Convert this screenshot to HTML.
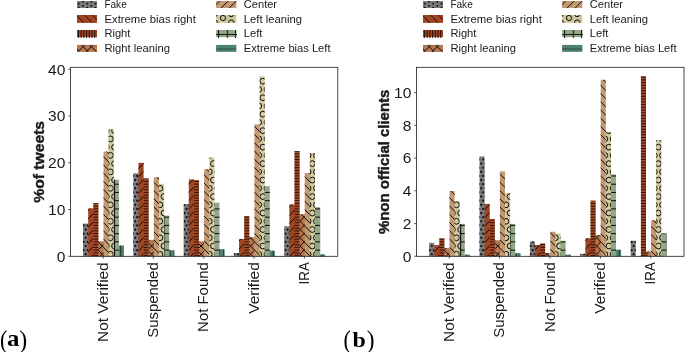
<!DOCTYPE html><html><head><meta charset="utf-8"><title>chart</title><style>html,body{margin:0;padding:0;background:#fff}svg{display:block;will-change:transform}text{font-family:"Liberation Sans",sans-serif;fill:#1a1a1a}.b{font-weight:bold;stroke:#1a1a1a;stroke-width:0.4px}.s{font-family:"Liberation Serif",serif;font-weight:bold;fill:#000}</style></head><body>
<svg width="685" height="352" viewBox="0 0 685 352">
<rect width="685" height="352" fill="#fff"/>
<rect x="83.05" y="223.58" width="5.57" height="32.73" fill="#797979"/>
<rect x="88.17" y="208.38" width="5.57" height="47.92" fill="#a24321"/>
<rect x="93.29" y="203.19" width="5.12" height="53.11" fill="#a64623"/>
<rect x="98.11" y="241.34" width="0.75" height="14.96" fill="#a64623"/>
<rect x="98.41" y="241.34" width="5.57" height="14.96" fill="#b97750"/>
<rect x="103.53" y="151.58" width="5.57" height="104.72" fill="#c39971"/>
<rect x="108.65" y="129.14" width="5.12" height="127.16" fill="#d1ca9f"/>
<rect x="113.47" y="179.63" width="0.75" height="76.67" fill="#d1ca9f"/>
<rect x="113.77" y="179.63" width="5.12" height="76.67" fill="#91a787"/>
<rect x="118.59" y="245.55" width="0.75" height="10.75" fill="#91a787"/>
<rect x="118.89" y="245.55" width="5.12" height="10.75" fill="#4f8472"/>
<rect x="133.35" y="173.32" width="5.57" height="82.98" fill="#797979"/>
<rect x="138.47" y="162.80" width="5.12" height="93.50" fill="#a24321"/>
<rect x="143.29" y="178.46" width="0.75" height="77.84" fill="#a24321"/>
<rect x="143.59" y="178.46" width="5.12" height="77.84" fill="#a64623"/>
<rect x="148.41" y="239.94" width="0.75" height="16.36" fill="#a64623"/>
<rect x="148.71" y="239.94" width="5.57" height="16.36" fill="#b97750"/>
<rect x="153.83" y="177.29" width="5.12" height="79.01" fill="#c39971"/>
<rect x="158.65" y="183.84" width="0.75" height="72.46" fill="#c39971"/>
<rect x="158.95" y="183.84" width="5.12" height="72.46" fill="#d1ca9f"/>
<rect x="163.77" y="215.63" width="0.75" height="40.67" fill="#d1ca9f"/>
<rect x="164.07" y="215.63" width="5.12" height="40.67" fill="#91a787"/>
<rect x="168.89" y="250.22" width="0.75" height="6.08" fill="#91a787"/>
<rect x="169.19" y="250.22" width="5.12" height="6.08" fill="#4f8472"/>
<rect x="183.65" y="204.17" width="5.57" height="52.13" fill="#797979"/>
<rect x="188.77" y="179.40" width="5.12" height="76.90" fill="#a24321"/>
<rect x="193.59" y="180.10" width="0.75" height="76.20" fill="#a24321"/>
<rect x="193.89" y="180.10" width="5.12" height="76.20" fill="#a64623"/>
<rect x="198.71" y="241.34" width="0.75" height="14.96" fill="#a64623"/>
<rect x="199.01" y="241.34" width="5.57" height="14.96" fill="#b97750"/>
<rect x="204.13" y="169.35" width="5.57" height="86.95" fill="#c39971"/>
<rect x="209.25" y="157.66" width="5.12" height="98.64" fill="#d1ca9f"/>
<rect x="214.07" y="202.77" width="0.75" height="53.53" fill="#d1ca9f"/>
<rect x="214.37" y="202.77" width="5.12" height="53.53" fill="#91a787"/>
<rect x="219.19" y="249.29" width="0.75" height="7.01" fill="#91a787"/>
<rect x="219.49" y="249.29" width="5.12" height="7.01" fill="#4f8472"/>
<rect x="233.95" y="253.03" width="5.57" height="3.27" fill="#797979"/>
<rect x="239.07" y="238.91" width="5.57" height="17.39" fill="#a24321"/>
<rect x="244.19" y="216.10" width="5.12" height="40.20" fill="#a64623"/>
<rect x="249.01" y="237.23" width="0.75" height="19.07" fill="#a64623"/>
<rect x="249.31" y="237.23" width="5.57" height="19.07" fill="#b97750"/>
<rect x="254.43" y="124.47" width="5.57" height="131.83" fill="#c39971"/>
<rect x="259.55" y="76.31" width="5.12" height="179.99" fill="#d1ca9f"/>
<rect x="264.37" y="186.18" width="0.75" height="70.12" fill="#d1ca9f"/>
<rect x="264.67" y="186.18" width="5.12" height="70.12" fill="#91a787"/>
<rect x="269.49" y="250.69" width="0.75" height="5.61" fill="#91a787"/>
<rect x="269.79" y="250.69" width="5.12" height="5.61" fill="#4f8472"/>
<rect x="284.25" y="226.38" width="5.57" height="29.92" fill="#797979"/>
<rect x="289.37" y="204.41" width="5.57" height="51.89" fill="#a24321"/>
<rect x="294.49" y="151.11" width="5.12" height="105.19" fill="#a64623"/>
<rect x="299.31" y="214.23" width="0.75" height="42.07" fill="#a64623"/>
<rect x="299.61" y="214.23" width="5.57" height="42.07" fill="#b97750"/>
<rect x="304.73" y="173.09" width="5.57" height="83.22" fill="#c39971"/>
<rect x="309.85" y="152.98" width="5.12" height="103.32" fill="#d1ca9f"/>
<rect x="314.67" y="207.21" width="0.75" height="49.09" fill="#d1ca9f"/>
<rect x="314.97" y="207.21" width="5.12" height="49.09" fill="#91a787"/>
<rect x="319.79" y="254.43" width="0.75" height="1.87" fill="#91a787"/>
<rect x="320.09" y="254.43" width="5.12" height="1.87" fill="#4f8472"/>
<clipPath id="c1"><rect x="83.05" y="223.58" width="5.12" height="32.73"/><rect x="133.35" y="173.32" width="5.12" height="82.98"/><rect x="183.65" y="204.17" width="5.12" height="52.13"/><rect x="233.95" y="253.03" width="5.12" height="3.27"/><rect x="284.25" y="226.38" width="5.12" height="29.92"/></clipPath>
<g clip-path="url(#c1)"><circle cx="83.64" cy="225.41" r="1.1" fill="#0c0c0c"/><circle cx="87.76" cy="225.41" r="1.1" fill="#0c0c0c"/><circle cx="85.70" cy="229.53" r="1.1" fill="#0c0c0c"/><circle cx="83.64" cy="233.65" r="1.1" fill="#0c0c0c"/><circle cx="87.76" cy="233.65" r="1.1" fill="#0c0c0c"/><circle cx="85.70" cy="237.77" r="1.1" fill="#0c0c0c"/><circle cx="83.64" cy="241.89" r="1.1" fill="#0c0c0c"/><circle cx="87.76" cy="241.89" r="1.1" fill="#0c0c0c"/><circle cx="85.70" cy="246.01" r="1.1" fill="#0c0c0c"/><circle cx="83.64" cy="250.13" r="1.1" fill="#0c0c0c"/><circle cx="87.76" cy="250.13" r="1.1" fill="#0c0c0c"/><circle cx="85.70" cy="254.25" r="1.1" fill="#0c0c0c"/><circle cx="133.08" cy="175.97" r="1.1" fill="#0c0c0c"/><circle cx="137.20" cy="175.97" r="1.1" fill="#0c0c0c"/><circle cx="135.14" cy="180.09" r="1.1" fill="#0c0c0c"/><circle cx="139.26" cy="180.09" r="1.1" fill="#0c0c0c"/><circle cx="133.08" cy="184.21" r="1.1" fill="#0c0c0c"/><circle cx="137.20" cy="184.21" r="1.1" fill="#0c0c0c"/><circle cx="135.14" cy="188.33" r="1.1" fill="#0c0c0c"/><circle cx="139.26" cy="188.33" r="1.1" fill="#0c0c0c"/><circle cx="133.08" cy="192.45" r="1.1" fill="#0c0c0c"/><circle cx="137.20" cy="192.45" r="1.1" fill="#0c0c0c"/><circle cx="135.14" cy="196.57" r="1.1" fill="#0c0c0c"/><circle cx="139.26" cy="196.57" r="1.1" fill="#0c0c0c"/><circle cx="133.08" cy="200.69" r="1.1" fill="#0c0c0c"/><circle cx="137.20" cy="200.69" r="1.1" fill="#0c0c0c"/><circle cx="135.14" cy="204.81" r="1.1" fill="#0c0c0c"/><circle cx="139.26" cy="204.81" r="1.1" fill="#0c0c0c"/><circle cx="133.08" cy="208.93" r="1.1" fill="#0c0c0c"/><circle cx="137.20" cy="208.93" r="1.1" fill="#0c0c0c"/><circle cx="135.14" cy="213.05" r="1.1" fill="#0c0c0c"/><circle cx="139.26" cy="213.05" r="1.1" fill="#0c0c0c"/><circle cx="133.08" cy="217.17" r="1.1" fill="#0c0c0c"/><circle cx="137.20" cy="217.17" r="1.1" fill="#0c0c0c"/><circle cx="135.14" cy="221.29" r="1.1" fill="#0c0c0c"/><circle cx="139.26" cy="221.29" r="1.1" fill="#0c0c0c"/><circle cx="133.08" cy="225.41" r="1.1" fill="#0c0c0c"/><circle cx="137.20" cy="225.41" r="1.1" fill="#0c0c0c"/><circle cx="135.14" cy="229.53" r="1.1" fill="#0c0c0c"/><circle cx="139.26" cy="229.53" r="1.1" fill="#0c0c0c"/><circle cx="133.08" cy="233.65" r="1.1" fill="#0c0c0c"/><circle cx="137.20" cy="233.65" r="1.1" fill="#0c0c0c"/><circle cx="135.14" cy="237.77" r="1.1" fill="#0c0c0c"/><circle cx="139.26" cy="237.77" r="1.1" fill="#0c0c0c"/><circle cx="133.08" cy="241.89" r="1.1" fill="#0c0c0c"/><circle cx="137.20" cy="241.89" r="1.1" fill="#0c0c0c"/><circle cx="135.14" cy="246.01" r="1.1" fill="#0c0c0c"/><circle cx="139.26" cy="246.01" r="1.1" fill="#0c0c0c"/><circle cx="133.08" cy="250.13" r="1.1" fill="#0c0c0c"/><circle cx="137.20" cy="250.13" r="1.1" fill="#0c0c0c"/><circle cx="135.14" cy="254.25" r="1.1" fill="#0c0c0c"/><circle cx="139.26" cy="254.25" r="1.1" fill="#0c0c0c"/><circle cx="184.58" cy="204.81" r="1.1" fill="#0c0c0c"/><circle cx="188.70" cy="204.81" r="1.1" fill="#0c0c0c"/><circle cx="186.64" cy="208.93" r="1.1" fill="#0c0c0c"/><circle cx="184.58" cy="213.05" r="1.1" fill="#0c0c0c"/><circle cx="188.70" cy="213.05" r="1.1" fill="#0c0c0c"/><circle cx="186.64" cy="217.17" r="1.1" fill="#0c0c0c"/><circle cx="184.58" cy="221.29" r="1.1" fill="#0c0c0c"/><circle cx="188.70" cy="221.29" r="1.1" fill="#0c0c0c"/><circle cx="186.64" cy="225.41" r="1.1" fill="#0c0c0c"/><circle cx="184.58" cy="229.53" r="1.1" fill="#0c0c0c"/><circle cx="188.70" cy="229.53" r="1.1" fill="#0c0c0c"/><circle cx="186.64" cy="233.65" r="1.1" fill="#0c0c0c"/><circle cx="184.58" cy="237.77" r="1.1" fill="#0c0c0c"/><circle cx="188.70" cy="237.77" r="1.1" fill="#0c0c0c"/><circle cx="186.64" cy="241.89" r="1.1" fill="#0c0c0c"/><circle cx="184.58" cy="246.01" r="1.1" fill="#0c0c0c"/><circle cx="188.70" cy="246.01" r="1.1" fill="#0c0c0c"/><circle cx="186.64" cy="250.13" r="1.1" fill="#0c0c0c"/><circle cx="184.58" cy="254.25" r="1.1" fill="#0c0c0c"/><circle cx="188.70" cy="254.25" r="1.1" fill="#0c0c0c"/><circle cx="234.02" cy="254.25" r="1.1" fill="#0c0c0c"/><circle cx="238.14" cy="254.25" r="1.1" fill="#0c0c0c"/><circle cx="285.52" cy="225.41" r="1.1" fill="#0c0c0c"/><circle cx="289.64" cy="225.41" r="1.1" fill="#0c0c0c"/><circle cx="283.46" cy="229.53" r="1.1" fill="#0c0c0c"/><circle cx="287.58" cy="229.53" r="1.1" fill="#0c0c0c"/><circle cx="285.52" cy="233.65" r="1.1" fill="#0c0c0c"/><circle cx="289.64" cy="233.65" r="1.1" fill="#0c0c0c"/><circle cx="283.46" cy="237.77" r="1.1" fill="#0c0c0c"/><circle cx="287.58" cy="237.77" r="1.1" fill="#0c0c0c"/><circle cx="285.52" cy="241.89" r="1.1" fill="#0c0c0c"/><circle cx="289.64" cy="241.89" r="1.1" fill="#0c0c0c"/><circle cx="283.46" cy="246.01" r="1.1" fill="#0c0c0c"/><circle cx="287.58" cy="246.01" r="1.1" fill="#0c0c0c"/><circle cx="285.52" cy="250.13" r="1.1" fill="#0c0c0c"/><circle cx="289.64" cy="250.13" r="1.1" fill="#0c0c0c"/><circle cx="283.46" cy="254.25" r="1.1" fill="#0c0c0c"/><circle cx="287.58" cy="254.25" r="1.1" fill="#0c0c0c"/></g>
<clipPath id="c2"><rect x="88.17" y="208.38" width="5.12" height="47.92"/><rect x="138.47" y="162.80" width="5.12" height="93.50"/><rect x="188.77" y="179.40" width="5.12" height="76.90"/><rect x="239.07" y="238.91" width="5.12" height="17.39"/><rect x="289.37" y="204.41" width="5.12" height="51.89"/></clipPath>
<g clip-path="url(#c2)"><line x1="87.17" y1="211.58" x2="94.29" y2="204.46" stroke="#0c0c0c" stroke-width="1.0"/><line x1="87.17" y1="219.82" x2="94.29" y2="212.70" stroke="#0c0c0c" stroke-width="1.0"/><line x1="87.17" y1="228.06" x2="94.29" y2="220.94" stroke="#0c0c0c" stroke-width="1.0"/><line x1="87.17" y1="236.30" x2="94.29" y2="229.18" stroke="#0c0c0c" stroke-width="1.0"/><line x1="87.17" y1="244.54" x2="94.29" y2="237.42" stroke="#0c0c0c" stroke-width="1.0"/><line x1="87.17" y1="252.78" x2="94.29" y2="245.66" stroke="#0c0c0c" stroke-width="1.0"/><line x1="87.17" y1="261.02" x2="94.29" y2="253.90" stroke="#0c0c0c" stroke-width="1.0"/><line x1="137.47" y1="169.52" x2="144.59" y2="162.40" stroke="#0c0c0c" stroke-width="1.0"/><line x1="137.47" y1="177.76" x2="144.59" y2="170.64" stroke="#0c0c0c" stroke-width="1.0"/><line x1="137.47" y1="186.00" x2="144.59" y2="178.88" stroke="#0c0c0c" stroke-width="1.0"/><line x1="137.47" y1="194.24" x2="144.59" y2="187.12" stroke="#0c0c0c" stroke-width="1.0"/><line x1="137.47" y1="202.48" x2="144.59" y2="195.36" stroke="#0c0c0c" stroke-width="1.0"/><line x1="137.47" y1="210.72" x2="144.59" y2="203.60" stroke="#0c0c0c" stroke-width="1.0"/><line x1="137.47" y1="218.96" x2="144.59" y2="211.84" stroke="#0c0c0c" stroke-width="1.0"/><line x1="137.47" y1="227.20" x2="144.59" y2="220.08" stroke="#0c0c0c" stroke-width="1.0"/><line x1="137.47" y1="235.44" x2="144.59" y2="228.32" stroke="#0c0c0c" stroke-width="1.0"/><line x1="137.47" y1="243.68" x2="144.59" y2="236.56" stroke="#0c0c0c" stroke-width="1.0"/><line x1="137.47" y1="251.92" x2="144.59" y2="244.80" stroke="#0c0c0c" stroke-width="1.0"/><line x1="137.47" y1="260.16" x2="144.59" y2="253.04" stroke="#0c0c0c" stroke-width="1.0"/><line x1="187.77" y1="185.14" x2="194.89" y2="178.02" stroke="#0c0c0c" stroke-width="1.0"/><line x1="187.77" y1="193.38" x2="194.89" y2="186.26" stroke="#0c0c0c" stroke-width="1.0"/><line x1="187.77" y1="201.62" x2="194.89" y2="194.50" stroke="#0c0c0c" stroke-width="1.0"/><line x1="187.77" y1="209.86" x2="194.89" y2="202.74" stroke="#0c0c0c" stroke-width="1.0"/><line x1="187.77" y1="218.10" x2="194.89" y2="210.98" stroke="#0c0c0c" stroke-width="1.0"/><line x1="187.77" y1="226.34" x2="194.89" y2="219.22" stroke="#0c0c0c" stroke-width="1.0"/><line x1="187.77" y1="234.58" x2="194.89" y2="227.46" stroke="#0c0c0c" stroke-width="1.0"/><line x1="187.77" y1="242.82" x2="194.89" y2="235.70" stroke="#0c0c0c" stroke-width="1.0"/><line x1="187.77" y1="251.06" x2="194.89" y2="243.94" stroke="#0c0c0c" stroke-width="1.0"/><line x1="187.77" y1="259.30" x2="194.89" y2="252.18" stroke="#0c0c0c" stroke-width="1.0"/><line x1="238.07" y1="241.96" x2="245.19" y2="234.84" stroke="#0c0c0c" stroke-width="1.0"/><line x1="238.07" y1="250.20" x2="245.19" y2="243.08" stroke="#0c0c0c" stroke-width="1.0"/><line x1="238.07" y1="258.44" x2="245.19" y2="251.32" stroke="#0c0c0c" stroke-width="1.0"/><line x1="288.37" y1="208.14" x2="295.49" y2="201.02" stroke="#0c0c0c" stroke-width="1.0"/><line x1="288.37" y1="216.38" x2="295.49" y2="209.26" stroke="#0c0c0c" stroke-width="1.0"/><line x1="288.37" y1="224.62" x2="295.49" y2="217.50" stroke="#0c0c0c" stroke-width="1.0"/><line x1="288.37" y1="232.86" x2="295.49" y2="225.74" stroke="#0c0c0c" stroke-width="1.0"/><line x1="288.37" y1="241.10" x2="295.49" y2="233.98" stroke="#0c0c0c" stroke-width="1.0"/><line x1="288.37" y1="249.34" x2="295.49" y2="242.22" stroke="#0c0c0c" stroke-width="1.0"/><line x1="288.37" y1="257.58" x2="295.49" y2="250.46" stroke="#0c0c0c" stroke-width="1.0"/></g>
<clipPath id="c3"><rect x="93.29" y="203.19" width="5.12" height="53.11"/><rect x="143.59" y="178.46" width="5.12" height="77.84"/><rect x="193.89" y="180.10" width="5.12" height="76.20"/><rect x="244.19" y="216.10" width="5.12" height="40.20"/><rect x="294.49" y="151.11" width="5.12" height="105.19"/></clipPath>
<g clip-path="url(#c3)"><line x1="92.29" y1="203.44" x2="99.41" y2="203.44" stroke="#0c0c0c" stroke-width="0.8"/><line x1="92.29" y1="206.18" x2="99.41" y2="206.18" stroke="#0c0c0c" stroke-width="0.8"/><line x1="92.29" y1="208.93" x2="99.41" y2="208.93" stroke="#0c0c0c" stroke-width="0.8"/><line x1="92.29" y1="211.68" x2="99.41" y2="211.68" stroke="#0c0c0c" stroke-width="0.8"/><line x1="92.29" y1="214.42" x2="99.41" y2="214.42" stroke="#0c0c0c" stroke-width="0.8"/><line x1="92.29" y1="217.17" x2="99.41" y2="217.17" stroke="#0c0c0c" stroke-width="0.8"/><line x1="92.29" y1="219.92" x2="99.41" y2="219.92" stroke="#0c0c0c" stroke-width="0.8"/><line x1="92.29" y1="222.66" x2="99.41" y2="222.66" stroke="#0c0c0c" stroke-width="0.8"/><line x1="92.29" y1="225.41" x2="99.41" y2="225.41" stroke="#0c0c0c" stroke-width="0.8"/><line x1="92.29" y1="228.16" x2="99.41" y2="228.16" stroke="#0c0c0c" stroke-width="0.8"/><line x1="92.29" y1="230.90" x2="99.41" y2="230.90" stroke="#0c0c0c" stroke-width="0.8"/><line x1="92.29" y1="233.65" x2="99.41" y2="233.65" stroke="#0c0c0c" stroke-width="0.8"/><line x1="92.29" y1="236.40" x2="99.41" y2="236.40" stroke="#0c0c0c" stroke-width="0.8"/><line x1="92.29" y1="239.14" x2="99.41" y2="239.14" stroke="#0c0c0c" stroke-width="0.8"/><line x1="92.29" y1="241.89" x2="99.41" y2="241.89" stroke="#0c0c0c" stroke-width="0.8"/><line x1="92.29" y1="244.64" x2="99.41" y2="244.64" stroke="#0c0c0c" stroke-width="0.8"/><line x1="92.29" y1="247.38" x2="99.41" y2="247.38" stroke="#0c0c0c" stroke-width="0.8"/><line x1="92.29" y1="250.13" x2="99.41" y2="250.13" stroke="#0c0c0c" stroke-width="0.8"/><line x1="92.29" y1="252.88" x2="99.41" y2="252.88" stroke="#0c0c0c" stroke-width="0.8"/><line x1="92.29" y1="255.62" x2="99.41" y2="255.62" stroke="#0c0c0c" stroke-width="0.8"/><line x1="142.59" y1="178.72" x2="149.71" y2="178.72" stroke="#0c0c0c" stroke-width="0.8"/><line x1="142.59" y1="181.46" x2="149.71" y2="181.46" stroke="#0c0c0c" stroke-width="0.8"/><line x1="142.59" y1="184.21" x2="149.71" y2="184.21" stroke="#0c0c0c" stroke-width="0.8"/><line x1="142.59" y1="186.96" x2="149.71" y2="186.96" stroke="#0c0c0c" stroke-width="0.8"/><line x1="142.59" y1="189.70" x2="149.71" y2="189.70" stroke="#0c0c0c" stroke-width="0.8"/><line x1="142.59" y1="192.45" x2="149.71" y2="192.45" stroke="#0c0c0c" stroke-width="0.8"/><line x1="142.59" y1="195.20" x2="149.71" y2="195.20" stroke="#0c0c0c" stroke-width="0.8"/><line x1="142.59" y1="197.94" x2="149.71" y2="197.94" stroke="#0c0c0c" stroke-width="0.8"/><line x1="142.59" y1="200.69" x2="149.71" y2="200.69" stroke="#0c0c0c" stroke-width="0.8"/><line x1="142.59" y1="203.44" x2="149.71" y2="203.44" stroke="#0c0c0c" stroke-width="0.8"/><line x1="142.59" y1="206.18" x2="149.71" y2="206.18" stroke="#0c0c0c" stroke-width="0.8"/><line x1="142.59" y1="208.93" x2="149.71" y2="208.93" stroke="#0c0c0c" stroke-width="0.8"/><line x1="142.59" y1="211.68" x2="149.71" y2="211.68" stroke="#0c0c0c" stroke-width="0.8"/><line x1="142.59" y1="214.42" x2="149.71" y2="214.42" stroke="#0c0c0c" stroke-width="0.8"/><line x1="142.59" y1="217.17" x2="149.71" y2="217.17" stroke="#0c0c0c" stroke-width="0.8"/><line x1="142.59" y1="219.92" x2="149.71" y2="219.92" stroke="#0c0c0c" stroke-width="0.8"/><line x1="142.59" y1="222.66" x2="149.71" y2="222.66" stroke="#0c0c0c" stroke-width="0.8"/><line x1="142.59" y1="225.41" x2="149.71" y2="225.41" stroke="#0c0c0c" stroke-width="0.8"/><line x1="142.59" y1="228.16" x2="149.71" y2="228.16" stroke="#0c0c0c" stroke-width="0.8"/><line x1="142.59" y1="230.90" x2="149.71" y2="230.90" stroke="#0c0c0c" stroke-width="0.8"/><line x1="142.59" y1="233.65" x2="149.71" y2="233.65" stroke="#0c0c0c" stroke-width="0.8"/><line x1="142.59" y1="236.40" x2="149.71" y2="236.40" stroke="#0c0c0c" stroke-width="0.8"/><line x1="142.59" y1="239.14" x2="149.71" y2="239.14" stroke="#0c0c0c" stroke-width="0.8"/><line x1="142.59" y1="241.89" x2="149.71" y2="241.89" stroke="#0c0c0c" stroke-width="0.8"/><line x1="142.59" y1="244.64" x2="149.71" y2="244.64" stroke="#0c0c0c" stroke-width="0.8"/><line x1="142.59" y1="247.38" x2="149.71" y2="247.38" stroke="#0c0c0c" stroke-width="0.8"/><line x1="142.59" y1="250.13" x2="149.71" y2="250.13" stroke="#0c0c0c" stroke-width="0.8"/><line x1="142.59" y1="252.88" x2="149.71" y2="252.88" stroke="#0c0c0c" stroke-width="0.8"/><line x1="142.59" y1="255.62" x2="149.71" y2="255.62" stroke="#0c0c0c" stroke-width="0.8"/><line x1="192.89" y1="181.46" x2="200.01" y2="181.46" stroke="#0c0c0c" stroke-width="0.8"/><line x1="192.89" y1="184.21" x2="200.01" y2="184.21" stroke="#0c0c0c" stroke-width="0.8"/><line x1="192.89" y1="186.96" x2="200.01" y2="186.96" stroke="#0c0c0c" stroke-width="0.8"/><line x1="192.89" y1="189.70" x2="200.01" y2="189.70" stroke="#0c0c0c" stroke-width="0.8"/><line x1="192.89" y1="192.45" x2="200.01" y2="192.45" stroke="#0c0c0c" stroke-width="0.8"/><line x1="192.89" y1="195.20" x2="200.01" y2="195.20" stroke="#0c0c0c" stroke-width="0.8"/><line x1="192.89" y1="197.94" x2="200.01" y2="197.94" stroke="#0c0c0c" stroke-width="0.8"/><line x1="192.89" y1="200.69" x2="200.01" y2="200.69" stroke="#0c0c0c" stroke-width="0.8"/><line x1="192.89" y1="203.44" x2="200.01" y2="203.44" stroke="#0c0c0c" stroke-width="0.8"/><line x1="192.89" y1="206.18" x2="200.01" y2="206.18" stroke="#0c0c0c" stroke-width="0.8"/><line x1="192.89" y1="208.93" x2="200.01" y2="208.93" stroke="#0c0c0c" stroke-width="0.8"/><line x1="192.89" y1="211.68" x2="200.01" y2="211.68" stroke="#0c0c0c" stroke-width="0.8"/><line x1="192.89" y1="214.42" x2="200.01" y2="214.42" stroke="#0c0c0c" stroke-width="0.8"/><line x1="192.89" y1="217.17" x2="200.01" y2="217.17" stroke="#0c0c0c" stroke-width="0.8"/><line x1="192.89" y1="219.92" x2="200.01" y2="219.92" stroke="#0c0c0c" stroke-width="0.8"/><line x1="192.89" y1="222.66" x2="200.01" y2="222.66" stroke="#0c0c0c" stroke-width="0.8"/><line x1="192.89" y1="225.41" x2="200.01" y2="225.41" stroke="#0c0c0c" stroke-width="0.8"/><line x1="192.89" y1="228.16" x2="200.01" y2="228.16" stroke="#0c0c0c" stroke-width="0.8"/><line x1="192.89" y1="230.90" x2="200.01" y2="230.90" stroke="#0c0c0c" stroke-width="0.8"/><line x1="192.89" y1="233.65" x2="200.01" y2="233.65" stroke="#0c0c0c" stroke-width="0.8"/><line x1="192.89" y1="236.40" x2="200.01" y2="236.40" stroke="#0c0c0c" stroke-width="0.8"/><line x1="192.89" y1="239.14" x2="200.01" y2="239.14" stroke="#0c0c0c" stroke-width="0.8"/><line x1="192.89" y1="241.89" x2="200.01" y2="241.89" stroke="#0c0c0c" stroke-width="0.8"/><line x1="192.89" y1="244.64" x2="200.01" y2="244.64" stroke="#0c0c0c" stroke-width="0.8"/><line x1="192.89" y1="247.38" x2="200.01" y2="247.38" stroke="#0c0c0c" stroke-width="0.8"/><line x1="192.89" y1="250.13" x2="200.01" y2="250.13" stroke="#0c0c0c" stroke-width="0.8"/><line x1="192.89" y1="252.88" x2="200.01" y2="252.88" stroke="#0c0c0c" stroke-width="0.8"/><line x1="192.89" y1="255.62" x2="200.01" y2="255.62" stroke="#0c0c0c" stroke-width="0.8"/><line x1="243.19" y1="217.17" x2="250.31" y2="217.17" stroke="#0c0c0c" stroke-width="0.8"/><line x1="243.19" y1="219.92" x2="250.31" y2="219.92" stroke="#0c0c0c" stroke-width="0.8"/><line x1="243.19" y1="222.66" x2="250.31" y2="222.66" stroke="#0c0c0c" stroke-width="0.8"/><line x1="243.19" y1="225.41" x2="250.31" y2="225.41" stroke="#0c0c0c" stroke-width="0.8"/><line x1="243.19" y1="228.16" x2="250.31" y2="228.16" stroke="#0c0c0c" stroke-width="0.8"/><line x1="243.19" y1="230.90" x2="250.31" y2="230.90" stroke="#0c0c0c" stroke-width="0.8"/><line x1="243.19" y1="233.65" x2="250.31" y2="233.65" stroke="#0c0c0c" stroke-width="0.8"/><line x1="243.19" y1="236.40" x2="250.31" y2="236.40" stroke="#0c0c0c" stroke-width="0.8"/><line x1="243.19" y1="239.14" x2="250.31" y2="239.14" stroke="#0c0c0c" stroke-width="0.8"/><line x1="243.19" y1="241.89" x2="250.31" y2="241.89" stroke="#0c0c0c" stroke-width="0.8"/><line x1="243.19" y1="244.64" x2="250.31" y2="244.64" stroke="#0c0c0c" stroke-width="0.8"/><line x1="243.19" y1="247.38" x2="250.31" y2="247.38" stroke="#0c0c0c" stroke-width="0.8"/><line x1="243.19" y1="250.13" x2="250.31" y2="250.13" stroke="#0c0c0c" stroke-width="0.8"/><line x1="243.19" y1="252.88" x2="250.31" y2="252.88" stroke="#0c0c0c" stroke-width="0.8"/><line x1="243.19" y1="255.62" x2="250.31" y2="255.62" stroke="#0c0c0c" stroke-width="0.8"/><line x1="293.49" y1="151.25" x2="300.61" y2="151.25" stroke="#0c0c0c" stroke-width="0.8"/><line x1="293.49" y1="154.00" x2="300.61" y2="154.00" stroke="#0c0c0c" stroke-width="0.8"/><line x1="293.49" y1="156.74" x2="300.61" y2="156.74" stroke="#0c0c0c" stroke-width="0.8"/><line x1="293.49" y1="159.49" x2="300.61" y2="159.49" stroke="#0c0c0c" stroke-width="0.8"/><line x1="293.49" y1="162.24" x2="300.61" y2="162.24" stroke="#0c0c0c" stroke-width="0.8"/><line x1="293.49" y1="164.98" x2="300.61" y2="164.98" stroke="#0c0c0c" stroke-width="0.8"/><line x1="293.49" y1="167.73" x2="300.61" y2="167.73" stroke="#0c0c0c" stroke-width="0.8"/><line x1="293.49" y1="170.48" x2="300.61" y2="170.48" stroke="#0c0c0c" stroke-width="0.8"/><line x1="293.49" y1="173.22" x2="300.61" y2="173.22" stroke="#0c0c0c" stroke-width="0.8"/><line x1="293.49" y1="175.97" x2="300.61" y2="175.97" stroke="#0c0c0c" stroke-width="0.8"/><line x1="293.49" y1="178.72" x2="300.61" y2="178.72" stroke="#0c0c0c" stroke-width="0.8"/><line x1="293.49" y1="181.46" x2="300.61" y2="181.46" stroke="#0c0c0c" stroke-width="0.8"/><line x1="293.49" y1="184.21" x2="300.61" y2="184.21" stroke="#0c0c0c" stroke-width="0.8"/><line x1="293.49" y1="186.96" x2="300.61" y2="186.96" stroke="#0c0c0c" stroke-width="0.8"/><line x1="293.49" y1="189.70" x2="300.61" y2="189.70" stroke="#0c0c0c" stroke-width="0.8"/><line x1="293.49" y1="192.45" x2="300.61" y2="192.45" stroke="#0c0c0c" stroke-width="0.8"/><line x1="293.49" y1="195.20" x2="300.61" y2="195.20" stroke="#0c0c0c" stroke-width="0.8"/><line x1="293.49" y1="197.94" x2="300.61" y2="197.94" stroke="#0c0c0c" stroke-width="0.8"/><line x1="293.49" y1="200.69" x2="300.61" y2="200.69" stroke="#0c0c0c" stroke-width="0.8"/><line x1="293.49" y1="203.44" x2="300.61" y2="203.44" stroke="#0c0c0c" stroke-width="0.8"/><line x1="293.49" y1="206.18" x2="300.61" y2="206.18" stroke="#0c0c0c" stroke-width="0.8"/><line x1="293.49" y1="208.93" x2="300.61" y2="208.93" stroke="#0c0c0c" stroke-width="0.8"/><line x1="293.49" y1="211.68" x2="300.61" y2="211.68" stroke="#0c0c0c" stroke-width="0.8"/><line x1="293.49" y1="214.42" x2="300.61" y2="214.42" stroke="#0c0c0c" stroke-width="0.8"/><line x1="293.49" y1="217.17" x2="300.61" y2="217.17" stroke="#0c0c0c" stroke-width="0.8"/><line x1="293.49" y1="219.92" x2="300.61" y2="219.92" stroke="#0c0c0c" stroke-width="0.8"/><line x1="293.49" y1="222.66" x2="300.61" y2="222.66" stroke="#0c0c0c" stroke-width="0.8"/><line x1="293.49" y1="225.41" x2="300.61" y2="225.41" stroke="#0c0c0c" stroke-width="0.8"/><line x1="293.49" y1="228.16" x2="300.61" y2="228.16" stroke="#0c0c0c" stroke-width="0.8"/><line x1="293.49" y1="230.90" x2="300.61" y2="230.90" stroke="#0c0c0c" stroke-width="0.8"/><line x1="293.49" y1="233.65" x2="300.61" y2="233.65" stroke="#0c0c0c" stroke-width="0.8"/><line x1="293.49" y1="236.40" x2="300.61" y2="236.40" stroke="#0c0c0c" stroke-width="0.8"/><line x1="293.49" y1="239.14" x2="300.61" y2="239.14" stroke="#0c0c0c" stroke-width="0.8"/><line x1="293.49" y1="241.89" x2="300.61" y2="241.89" stroke="#0c0c0c" stroke-width="0.8"/><line x1="293.49" y1="244.64" x2="300.61" y2="244.64" stroke="#0c0c0c" stroke-width="0.8"/><line x1="293.49" y1="247.38" x2="300.61" y2="247.38" stroke="#0c0c0c" stroke-width="0.8"/><line x1="293.49" y1="250.13" x2="300.61" y2="250.13" stroke="#0c0c0c" stroke-width="0.8"/><line x1="293.49" y1="252.88" x2="300.61" y2="252.88" stroke="#0c0c0c" stroke-width="0.8"/><line x1="293.49" y1="255.62" x2="300.61" y2="255.62" stroke="#0c0c0c" stroke-width="0.8"/></g>
<clipPath id="c4"><rect x="98.41" y="241.34" width="5.12" height="14.96"/><rect x="148.71" y="239.94" width="5.12" height="16.36"/><rect x="199.01" y="241.34" width="5.12" height="14.96"/><rect x="249.31" y="237.23" width="5.12" height="19.07"/><rect x="299.61" y="214.23" width="5.12" height="42.07"/></clipPath>
<g clip-path="url(#c4)"><line x1="97.41" y1="242.54" x2="104.53" y2="235.42" stroke="#0c0c0c" stroke-width="1.0"/><line x1="97.41" y1="250.78" x2="104.53" y2="243.66" stroke="#0c0c0c" stroke-width="1.0"/><line x1="97.41" y1="259.02" x2="104.53" y2="251.90" stroke="#0c0c0c" stroke-width="1.0"/><line x1="97.41" y1="249.48" x2="104.53" y2="256.60" stroke="#0c0c0c" stroke-width="1.0"/><line x1="97.41" y1="241.24" x2="104.53" y2="248.36" stroke="#0c0c0c" stroke-width="1.0"/><line x1="147.71" y1="241.68" x2="154.83" y2="234.56" stroke="#0c0c0c" stroke-width="1.0"/><line x1="147.71" y1="249.92" x2="154.83" y2="242.80" stroke="#0c0c0c" stroke-width="1.0"/><line x1="147.71" y1="258.16" x2="154.83" y2="251.04" stroke="#0c0c0c" stroke-width="1.0"/><line x1="147.71" y1="250.34" x2="154.83" y2="257.46" stroke="#0c0c0c" stroke-width="1.0"/><line x1="147.71" y1="242.10" x2="154.83" y2="249.22" stroke="#0c0c0c" stroke-width="1.0"/><line x1="147.71" y1="233.86" x2="154.83" y2="240.98" stroke="#0c0c0c" stroke-width="1.0"/><line x1="198.01" y1="240.82" x2="205.13" y2="233.70" stroke="#0c0c0c" stroke-width="1.0"/><line x1="198.01" y1="249.06" x2="205.13" y2="241.94" stroke="#0c0c0c" stroke-width="1.0"/><line x1="198.01" y1="257.30" x2="205.13" y2="250.18" stroke="#0c0c0c" stroke-width="1.0"/><line x1="198.01" y1="251.20" x2="205.13" y2="258.32" stroke="#0c0c0c" stroke-width="1.0"/><line x1="198.01" y1="242.96" x2="205.13" y2="250.08" stroke="#0c0c0c" stroke-width="1.0"/><line x1="198.01" y1="234.72" x2="205.13" y2="241.84" stroke="#0c0c0c" stroke-width="1.0"/><line x1="248.31" y1="239.96" x2="255.43" y2="232.84" stroke="#0c0c0c" stroke-width="1.0"/><line x1="248.31" y1="248.20" x2="255.43" y2="241.08" stroke="#0c0c0c" stroke-width="1.0"/><line x1="248.31" y1="256.44" x2="255.43" y2="249.32" stroke="#0c0c0c" stroke-width="1.0"/><line x1="248.31" y1="252.06" x2="255.43" y2="259.18" stroke="#0c0c0c" stroke-width="1.0"/><line x1="248.31" y1="243.82" x2="255.43" y2="250.94" stroke="#0c0c0c" stroke-width="1.0"/><line x1="248.31" y1="235.58" x2="255.43" y2="242.70" stroke="#0c0c0c" stroke-width="1.0"/><line x1="298.61" y1="214.38" x2="305.73" y2="207.26" stroke="#0c0c0c" stroke-width="1.0"/><line x1="298.61" y1="222.62" x2="305.73" y2="215.50" stroke="#0c0c0c" stroke-width="1.0"/><line x1="298.61" y1="230.86" x2="305.73" y2="223.74" stroke="#0c0c0c" stroke-width="1.0"/><line x1="298.61" y1="239.10" x2="305.73" y2="231.98" stroke="#0c0c0c" stroke-width="1.0"/><line x1="298.61" y1="247.34" x2="305.73" y2="240.22" stroke="#0c0c0c" stroke-width="1.0"/><line x1="298.61" y1="255.58" x2="305.73" y2="248.46" stroke="#0c0c0c" stroke-width="1.0"/><line x1="298.61" y1="263.82" x2="305.73" y2="256.70" stroke="#0c0c0c" stroke-width="1.0"/><line x1="298.61" y1="252.92" x2="305.73" y2="260.04" stroke="#0c0c0c" stroke-width="1.0"/><line x1="298.61" y1="244.68" x2="305.73" y2="251.80" stroke="#0c0c0c" stroke-width="1.0"/><line x1="298.61" y1="236.44" x2="305.73" y2="243.56" stroke="#0c0c0c" stroke-width="1.0"/><line x1="298.61" y1="228.20" x2="305.73" y2="235.32" stroke="#0c0c0c" stroke-width="1.0"/><line x1="298.61" y1="219.96" x2="305.73" y2="227.08" stroke="#0c0c0c" stroke-width="1.0"/><line x1="298.61" y1="211.72" x2="305.73" y2="218.84" stroke="#0c0c0c" stroke-width="1.0"/></g>
<clipPath id="c5"><rect x="103.53" y="151.58" width="5.12" height="104.72"/><rect x="153.83" y="177.29" width="5.12" height="79.01"/><rect x="204.13" y="169.35" width="5.12" height="86.95"/><rect x="254.43" y="124.47" width="5.12" height="131.83"/><rect x="304.73" y="173.09" width="5.12" height="83.22"/></clipPath>
<g clip-path="url(#c5)"><line x1="102.53" y1="254.60" x2="109.65" y2="261.72" stroke="#0c0c0c" stroke-width="1.0"/><line x1="102.53" y1="246.36" x2="109.65" y2="253.48" stroke="#0c0c0c" stroke-width="1.0"/><line x1="102.53" y1="238.12" x2="109.65" y2="245.24" stroke="#0c0c0c" stroke-width="1.0"/><line x1="102.53" y1="229.88" x2="109.65" y2="237.00" stroke="#0c0c0c" stroke-width="1.0"/><line x1="102.53" y1="221.64" x2="109.65" y2="228.76" stroke="#0c0c0c" stroke-width="1.0"/><line x1="102.53" y1="213.40" x2="109.65" y2="220.52" stroke="#0c0c0c" stroke-width="1.0"/><line x1="102.53" y1="205.16" x2="109.65" y2="212.28" stroke="#0c0c0c" stroke-width="1.0"/><line x1="102.53" y1="196.92" x2="109.65" y2="204.04" stroke="#0c0c0c" stroke-width="1.0"/><line x1="102.53" y1="188.68" x2="109.65" y2="195.80" stroke="#0c0c0c" stroke-width="1.0"/><line x1="102.53" y1="180.44" x2="109.65" y2="187.56" stroke="#0c0c0c" stroke-width="1.0"/><line x1="102.53" y1="172.20" x2="109.65" y2="179.32" stroke="#0c0c0c" stroke-width="1.0"/><line x1="102.53" y1="163.96" x2="109.65" y2="171.08" stroke="#0c0c0c" stroke-width="1.0"/><line x1="102.53" y1="155.72" x2="109.65" y2="162.84" stroke="#0c0c0c" stroke-width="1.0"/><line x1="102.53" y1="147.48" x2="109.65" y2="154.60" stroke="#0c0c0c" stroke-width="1.0"/><line x1="152.83" y1="255.46" x2="159.95" y2="262.58" stroke="#0c0c0c" stroke-width="1.0"/><line x1="152.83" y1="247.22" x2="159.95" y2="254.34" stroke="#0c0c0c" stroke-width="1.0"/><line x1="152.83" y1="238.98" x2="159.95" y2="246.10" stroke="#0c0c0c" stroke-width="1.0"/><line x1="152.83" y1="230.74" x2="159.95" y2="237.86" stroke="#0c0c0c" stroke-width="1.0"/><line x1="152.83" y1="222.50" x2="159.95" y2="229.62" stroke="#0c0c0c" stroke-width="1.0"/><line x1="152.83" y1="214.26" x2="159.95" y2="221.38" stroke="#0c0c0c" stroke-width="1.0"/><line x1="152.83" y1="206.02" x2="159.95" y2="213.14" stroke="#0c0c0c" stroke-width="1.0"/><line x1="152.83" y1="197.78" x2="159.95" y2="204.90" stroke="#0c0c0c" stroke-width="1.0"/><line x1="152.83" y1="189.54" x2="159.95" y2="196.66" stroke="#0c0c0c" stroke-width="1.0"/><line x1="152.83" y1="181.30" x2="159.95" y2="188.42" stroke="#0c0c0c" stroke-width="1.0"/><line x1="152.83" y1="173.06" x2="159.95" y2="180.18" stroke="#0c0c0c" stroke-width="1.0"/><line x1="203.13" y1="256.32" x2="210.25" y2="263.44" stroke="#0c0c0c" stroke-width="1.0"/><line x1="203.13" y1="248.08" x2="210.25" y2="255.20" stroke="#0c0c0c" stroke-width="1.0"/><line x1="203.13" y1="239.84" x2="210.25" y2="246.96" stroke="#0c0c0c" stroke-width="1.0"/><line x1="203.13" y1="231.60" x2="210.25" y2="238.72" stroke="#0c0c0c" stroke-width="1.0"/><line x1="203.13" y1="223.36" x2="210.25" y2="230.48" stroke="#0c0c0c" stroke-width="1.0"/><line x1="203.13" y1="215.12" x2="210.25" y2="222.24" stroke="#0c0c0c" stroke-width="1.0"/><line x1="203.13" y1="206.88" x2="210.25" y2="214.00" stroke="#0c0c0c" stroke-width="1.0"/><line x1="203.13" y1="198.64" x2="210.25" y2="205.76" stroke="#0c0c0c" stroke-width="1.0"/><line x1="203.13" y1="190.40" x2="210.25" y2="197.52" stroke="#0c0c0c" stroke-width="1.0"/><line x1="203.13" y1="182.16" x2="210.25" y2="189.28" stroke="#0c0c0c" stroke-width="1.0"/><line x1="203.13" y1="173.92" x2="210.25" y2="181.04" stroke="#0c0c0c" stroke-width="1.0"/><line x1="203.13" y1="165.68" x2="210.25" y2="172.80" stroke="#0c0c0c" stroke-width="1.0"/><line x1="253.43" y1="257.18" x2="260.55" y2="264.30" stroke="#0c0c0c" stroke-width="1.0"/><line x1="253.43" y1="248.94" x2="260.55" y2="256.06" stroke="#0c0c0c" stroke-width="1.0"/><line x1="253.43" y1="240.70" x2="260.55" y2="247.82" stroke="#0c0c0c" stroke-width="1.0"/><line x1="253.43" y1="232.46" x2="260.55" y2="239.58" stroke="#0c0c0c" stroke-width="1.0"/><line x1="253.43" y1="224.22" x2="260.55" y2="231.34" stroke="#0c0c0c" stroke-width="1.0"/><line x1="253.43" y1="215.98" x2="260.55" y2="223.10" stroke="#0c0c0c" stroke-width="1.0"/><line x1="253.43" y1="207.74" x2="260.55" y2="214.86" stroke="#0c0c0c" stroke-width="1.0"/><line x1="253.43" y1="199.50" x2="260.55" y2="206.62" stroke="#0c0c0c" stroke-width="1.0"/><line x1="253.43" y1="191.26" x2="260.55" y2="198.38" stroke="#0c0c0c" stroke-width="1.0"/><line x1="253.43" y1="183.02" x2="260.55" y2="190.14" stroke="#0c0c0c" stroke-width="1.0"/><line x1="253.43" y1="174.78" x2="260.55" y2="181.90" stroke="#0c0c0c" stroke-width="1.0"/><line x1="253.43" y1="166.54" x2="260.55" y2="173.66" stroke="#0c0c0c" stroke-width="1.0"/><line x1="253.43" y1="158.30" x2="260.55" y2="165.42" stroke="#0c0c0c" stroke-width="1.0"/><line x1="253.43" y1="150.06" x2="260.55" y2="157.18" stroke="#0c0c0c" stroke-width="1.0"/><line x1="253.43" y1="141.82" x2="260.55" y2="148.94" stroke="#0c0c0c" stroke-width="1.0"/><line x1="253.43" y1="133.58" x2="260.55" y2="140.70" stroke="#0c0c0c" stroke-width="1.0"/><line x1="253.43" y1="125.34" x2="260.55" y2="132.46" stroke="#0c0c0c" stroke-width="1.0"/><line x1="253.43" y1="117.10" x2="260.55" y2="124.22" stroke="#0c0c0c" stroke-width="1.0"/><line x1="303.73" y1="249.80" x2="310.85" y2="256.92" stroke="#0c0c0c" stroke-width="1.0"/><line x1="303.73" y1="241.56" x2="310.85" y2="248.68" stroke="#0c0c0c" stroke-width="1.0"/><line x1="303.73" y1="233.32" x2="310.85" y2="240.44" stroke="#0c0c0c" stroke-width="1.0"/><line x1="303.73" y1="225.08" x2="310.85" y2="232.20" stroke="#0c0c0c" stroke-width="1.0"/><line x1="303.73" y1="216.84" x2="310.85" y2="223.96" stroke="#0c0c0c" stroke-width="1.0"/><line x1="303.73" y1="208.60" x2="310.85" y2="215.72" stroke="#0c0c0c" stroke-width="1.0"/><line x1="303.73" y1="200.36" x2="310.85" y2="207.48" stroke="#0c0c0c" stroke-width="1.0"/><line x1="303.73" y1="192.12" x2="310.85" y2="199.24" stroke="#0c0c0c" stroke-width="1.0"/><line x1="303.73" y1="183.88" x2="310.85" y2="191.00" stroke="#0c0c0c" stroke-width="1.0"/><line x1="303.73" y1="175.64" x2="310.85" y2="182.76" stroke="#0c0c0c" stroke-width="1.0"/><line x1="303.73" y1="167.40" x2="310.85" y2="174.52" stroke="#0c0c0c" stroke-width="1.0"/></g>
<clipPath id="c6"><rect x="108.65" y="129.14" width="5.12" height="127.16"/><rect x="158.95" y="183.84" width="5.12" height="72.46"/><rect x="209.25" y="157.66" width="5.12" height="98.64"/><rect x="259.55" y="76.31" width="5.12" height="179.99"/><rect x="309.85" y="152.98" width="5.12" height="103.32"/></clipPath>
<g clip-path="url(#c6)"><circle cx="106.30" cy="130.65" r="2.88" fill="none" stroke="#0c0c0c" stroke-width="1.0"/><circle cx="114.54" cy="130.65" r="2.88" fill="none" stroke="#0c0c0c" stroke-width="1.0"/><circle cx="110.42" cy="138.89" r="2.88" fill="none" stroke="#0c0c0c" stroke-width="1.0"/><circle cx="106.30" cy="147.13" r="2.88" fill="none" stroke="#0c0c0c" stroke-width="1.0"/><circle cx="114.54" cy="147.13" r="2.88" fill="none" stroke="#0c0c0c" stroke-width="1.0"/><circle cx="110.42" cy="155.37" r="2.88" fill="none" stroke="#0c0c0c" stroke-width="1.0"/><circle cx="106.30" cy="163.61" r="2.88" fill="none" stroke="#0c0c0c" stroke-width="1.0"/><circle cx="114.54" cy="163.61" r="2.88" fill="none" stroke="#0c0c0c" stroke-width="1.0"/><circle cx="110.42" cy="171.85" r="2.88" fill="none" stroke="#0c0c0c" stroke-width="1.0"/><circle cx="106.30" cy="180.09" r="2.88" fill="none" stroke="#0c0c0c" stroke-width="1.0"/><circle cx="114.54" cy="180.09" r="2.88" fill="none" stroke="#0c0c0c" stroke-width="1.0"/><circle cx="110.42" cy="188.33" r="2.88" fill="none" stroke="#0c0c0c" stroke-width="1.0"/><circle cx="106.30" cy="196.57" r="2.88" fill="none" stroke="#0c0c0c" stroke-width="1.0"/><circle cx="114.54" cy="196.57" r="2.88" fill="none" stroke="#0c0c0c" stroke-width="1.0"/><circle cx="110.42" cy="204.81" r="2.88" fill="none" stroke="#0c0c0c" stroke-width="1.0"/><circle cx="106.30" cy="213.05" r="2.88" fill="none" stroke="#0c0c0c" stroke-width="1.0"/><circle cx="114.54" cy="213.05" r="2.88" fill="none" stroke="#0c0c0c" stroke-width="1.0"/><circle cx="110.42" cy="221.29" r="2.88" fill="none" stroke="#0c0c0c" stroke-width="1.0"/><circle cx="106.30" cy="229.53" r="2.88" fill="none" stroke="#0c0c0c" stroke-width="1.0"/><circle cx="114.54" cy="229.53" r="2.88" fill="none" stroke="#0c0c0c" stroke-width="1.0"/><circle cx="110.42" cy="237.77" r="2.88" fill="none" stroke="#0c0c0c" stroke-width="1.0"/><circle cx="106.30" cy="246.01" r="2.88" fill="none" stroke="#0c0c0c" stroke-width="1.0"/><circle cx="114.54" cy="246.01" r="2.88" fill="none" stroke="#0c0c0c" stroke-width="1.0"/><circle cx="110.42" cy="254.25" r="2.88" fill="none" stroke="#0c0c0c" stroke-width="1.0"/><circle cx="155.74" cy="180.09" r="2.88" fill="none" stroke="#0c0c0c" stroke-width="1.0"/><circle cx="163.98" cy="180.09" r="2.88" fill="none" stroke="#0c0c0c" stroke-width="1.0"/><circle cx="159.86" cy="188.33" r="2.88" fill="none" stroke="#0c0c0c" stroke-width="1.0"/><circle cx="155.74" cy="196.57" r="2.88" fill="none" stroke="#0c0c0c" stroke-width="1.0"/><circle cx="163.98" cy="196.57" r="2.88" fill="none" stroke="#0c0c0c" stroke-width="1.0"/><circle cx="159.86" cy="204.81" r="2.88" fill="none" stroke="#0c0c0c" stroke-width="1.0"/><circle cx="155.74" cy="213.05" r="2.88" fill="none" stroke="#0c0c0c" stroke-width="1.0"/><circle cx="163.98" cy="213.05" r="2.88" fill="none" stroke="#0c0c0c" stroke-width="1.0"/><circle cx="159.86" cy="221.29" r="2.88" fill="none" stroke="#0c0c0c" stroke-width="1.0"/><circle cx="155.74" cy="229.53" r="2.88" fill="none" stroke="#0c0c0c" stroke-width="1.0"/><circle cx="163.98" cy="229.53" r="2.88" fill="none" stroke="#0c0c0c" stroke-width="1.0"/><circle cx="159.86" cy="237.77" r="2.88" fill="none" stroke="#0c0c0c" stroke-width="1.0"/><circle cx="155.74" cy="246.01" r="2.88" fill="none" stroke="#0c0c0c" stroke-width="1.0"/><circle cx="163.98" cy="246.01" r="2.88" fill="none" stroke="#0c0c0c" stroke-width="1.0"/><circle cx="159.86" cy="254.25" r="2.88" fill="none" stroke="#0c0c0c" stroke-width="1.0"/><circle cx="209.30" cy="155.37" r="2.88" fill="none" stroke="#0c0c0c" stroke-width="1.0"/><circle cx="217.54" cy="155.37" r="2.88" fill="none" stroke="#0c0c0c" stroke-width="1.0"/><circle cx="213.42" cy="163.61" r="2.88" fill="none" stroke="#0c0c0c" stroke-width="1.0"/><circle cx="209.30" cy="171.85" r="2.88" fill="none" stroke="#0c0c0c" stroke-width="1.0"/><circle cx="217.54" cy="171.85" r="2.88" fill="none" stroke="#0c0c0c" stroke-width="1.0"/><circle cx="213.42" cy="180.09" r="2.88" fill="none" stroke="#0c0c0c" stroke-width="1.0"/><circle cx="209.30" cy="188.33" r="2.88" fill="none" stroke="#0c0c0c" stroke-width="1.0"/><circle cx="217.54" cy="188.33" r="2.88" fill="none" stroke="#0c0c0c" stroke-width="1.0"/><circle cx="213.42" cy="196.57" r="2.88" fill="none" stroke="#0c0c0c" stroke-width="1.0"/><circle cx="209.30" cy="204.81" r="2.88" fill="none" stroke="#0c0c0c" stroke-width="1.0"/><circle cx="217.54" cy="204.81" r="2.88" fill="none" stroke="#0c0c0c" stroke-width="1.0"/><circle cx="213.42" cy="213.05" r="2.88" fill="none" stroke="#0c0c0c" stroke-width="1.0"/><circle cx="209.30" cy="221.29" r="2.88" fill="none" stroke="#0c0c0c" stroke-width="1.0"/><circle cx="217.54" cy="221.29" r="2.88" fill="none" stroke="#0c0c0c" stroke-width="1.0"/><circle cx="213.42" cy="229.53" r="2.88" fill="none" stroke="#0c0c0c" stroke-width="1.0"/><circle cx="209.30" cy="237.77" r="2.88" fill="none" stroke="#0c0c0c" stroke-width="1.0"/><circle cx="217.54" cy="237.77" r="2.88" fill="none" stroke="#0c0c0c" stroke-width="1.0"/><circle cx="213.42" cy="246.01" r="2.88" fill="none" stroke="#0c0c0c" stroke-width="1.0"/><circle cx="209.30" cy="254.25" r="2.88" fill="none" stroke="#0c0c0c" stroke-width="1.0"/><circle cx="217.54" cy="254.25" r="2.88" fill="none" stroke="#0c0c0c" stroke-width="1.0"/><circle cx="258.74" cy="72.97" r="2.88" fill="none" stroke="#0c0c0c" stroke-width="1.0"/><circle cx="266.98" cy="72.97" r="2.88" fill="none" stroke="#0c0c0c" stroke-width="1.0"/><circle cx="262.86" cy="81.21" r="2.88" fill="none" stroke="#0c0c0c" stroke-width="1.0"/><circle cx="258.74" cy="89.45" r="2.88" fill="none" stroke="#0c0c0c" stroke-width="1.0"/><circle cx="266.98" cy="89.45" r="2.88" fill="none" stroke="#0c0c0c" stroke-width="1.0"/><circle cx="262.86" cy="97.69" r="2.88" fill="none" stroke="#0c0c0c" stroke-width="1.0"/><circle cx="258.74" cy="105.93" r="2.88" fill="none" stroke="#0c0c0c" stroke-width="1.0"/><circle cx="266.98" cy="105.93" r="2.88" fill="none" stroke="#0c0c0c" stroke-width="1.0"/><circle cx="262.86" cy="114.17" r="2.88" fill="none" stroke="#0c0c0c" stroke-width="1.0"/><circle cx="258.74" cy="122.41" r="2.88" fill="none" stroke="#0c0c0c" stroke-width="1.0"/><circle cx="266.98" cy="122.41" r="2.88" fill="none" stroke="#0c0c0c" stroke-width="1.0"/><circle cx="262.86" cy="130.65" r="2.88" fill="none" stroke="#0c0c0c" stroke-width="1.0"/><circle cx="258.74" cy="138.89" r="2.88" fill="none" stroke="#0c0c0c" stroke-width="1.0"/><circle cx="266.98" cy="138.89" r="2.88" fill="none" stroke="#0c0c0c" stroke-width="1.0"/><circle cx="262.86" cy="147.13" r="2.88" fill="none" stroke="#0c0c0c" stroke-width="1.0"/><circle cx="258.74" cy="155.37" r="2.88" fill="none" stroke="#0c0c0c" stroke-width="1.0"/><circle cx="266.98" cy="155.37" r="2.88" fill="none" stroke="#0c0c0c" stroke-width="1.0"/><circle cx="262.86" cy="163.61" r="2.88" fill="none" stroke="#0c0c0c" stroke-width="1.0"/><circle cx="258.74" cy="171.85" r="2.88" fill="none" stroke="#0c0c0c" stroke-width="1.0"/><circle cx="266.98" cy="171.85" r="2.88" fill="none" stroke="#0c0c0c" stroke-width="1.0"/><circle cx="262.86" cy="180.09" r="2.88" fill="none" stroke="#0c0c0c" stroke-width="1.0"/><circle cx="258.74" cy="188.33" r="2.88" fill="none" stroke="#0c0c0c" stroke-width="1.0"/><circle cx="266.98" cy="188.33" r="2.88" fill="none" stroke="#0c0c0c" stroke-width="1.0"/><circle cx="262.86" cy="196.57" r="2.88" fill="none" stroke="#0c0c0c" stroke-width="1.0"/><circle cx="258.74" cy="204.81" r="2.88" fill="none" stroke="#0c0c0c" stroke-width="1.0"/><circle cx="266.98" cy="204.81" r="2.88" fill="none" stroke="#0c0c0c" stroke-width="1.0"/><circle cx="262.86" cy="213.05" r="2.88" fill="none" stroke="#0c0c0c" stroke-width="1.0"/><circle cx="258.74" cy="221.29" r="2.88" fill="none" stroke="#0c0c0c" stroke-width="1.0"/><circle cx="266.98" cy="221.29" r="2.88" fill="none" stroke="#0c0c0c" stroke-width="1.0"/><circle cx="262.86" cy="229.53" r="2.88" fill="none" stroke="#0c0c0c" stroke-width="1.0"/><circle cx="258.74" cy="237.77" r="2.88" fill="none" stroke="#0c0c0c" stroke-width="1.0"/><circle cx="266.98" cy="237.77" r="2.88" fill="none" stroke="#0c0c0c" stroke-width="1.0"/><circle cx="262.86" cy="246.01" r="2.88" fill="none" stroke="#0c0c0c" stroke-width="1.0"/><circle cx="258.74" cy="254.25" r="2.88" fill="none" stroke="#0c0c0c" stroke-width="1.0"/><circle cx="266.98" cy="254.25" r="2.88" fill="none" stroke="#0c0c0c" stroke-width="1.0"/><circle cx="308.18" cy="155.37" r="2.88" fill="none" stroke="#0c0c0c" stroke-width="1.0"/><circle cx="316.42" cy="155.37" r="2.88" fill="none" stroke="#0c0c0c" stroke-width="1.0"/><circle cx="312.30" cy="163.61" r="2.88" fill="none" stroke="#0c0c0c" stroke-width="1.0"/><circle cx="308.18" cy="171.85" r="2.88" fill="none" stroke="#0c0c0c" stroke-width="1.0"/><circle cx="316.42" cy="171.85" r="2.88" fill="none" stroke="#0c0c0c" stroke-width="1.0"/><circle cx="312.30" cy="180.09" r="2.88" fill="none" stroke="#0c0c0c" stroke-width="1.0"/><circle cx="308.18" cy="188.33" r="2.88" fill="none" stroke="#0c0c0c" stroke-width="1.0"/><circle cx="316.42" cy="188.33" r="2.88" fill="none" stroke="#0c0c0c" stroke-width="1.0"/><circle cx="312.30" cy="196.57" r="2.88" fill="none" stroke="#0c0c0c" stroke-width="1.0"/><circle cx="308.18" cy="204.81" r="2.88" fill="none" stroke="#0c0c0c" stroke-width="1.0"/><circle cx="316.42" cy="204.81" r="2.88" fill="none" stroke="#0c0c0c" stroke-width="1.0"/><circle cx="312.30" cy="213.05" r="2.88" fill="none" stroke="#0c0c0c" stroke-width="1.0"/><circle cx="308.18" cy="221.29" r="2.88" fill="none" stroke="#0c0c0c" stroke-width="1.0"/><circle cx="316.42" cy="221.29" r="2.88" fill="none" stroke="#0c0c0c" stroke-width="1.0"/><circle cx="312.30" cy="229.53" r="2.88" fill="none" stroke="#0c0c0c" stroke-width="1.0"/><circle cx="308.18" cy="237.77" r="2.88" fill="none" stroke="#0c0c0c" stroke-width="1.0"/><circle cx="316.42" cy="237.77" r="2.88" fill="none" stroke="#0c0c0c" stroke-width="1.0"/><circle cx="312.30" cy="246.01" r="2.88" fill="none" stroke="#0c0c0c" stroke-width="1.0"/><circle cx="308.18" cy="254.25" r="2.88" fill="none" stroke="#0c0c0c" stroke-width="1.0"/><circle cx="316.42" cy="254.25" r="2.88" fill="none" stroke="#0c0c0c" stroke-width="1.0"/></g>
<clipPath id="c7"><rect x="113.77" y="179.63" width="5.12" height="76.67"/><rect x="164.07" y="215.63" width="5.12" height="40.67"/><rect x="214.37" y="202.77" width="5.12" height="53.53"/><rect x="264.67" y="186.18" width="5.12" height="70.12"/><rect x="314.97" y="207.21" width="5.12" height="49.09"/></clipPath>
<g clip-path="url(#c7)"><line x1="112.77" y1="184.21" x2="119.89" y2="184.21" stroke="#0c0c0c" stroke-width="1.0"/><line x1="112.77" y1="192.45" x2="119.89" y2="192.45" stroke="#0c0c0c" stroke-width="1.0"/><line x1="112.77" y1="200.69" x2="119.89" y2="200.69" stroke="#0c0c0c" stroke-width="1.0"/><line x1="112.77" y1="208.93" x2="119.89" y2="208.93" stroke="#0c0c0c" stroke-width="1.0"/><line x1="112.77" y1="217.17" x2="119.89" y2="217.17" stroke="#0c0c0c" stroke-width="1.0"/><line x1="112.77" y1="225.41" x2="119.89" y2="225.41" stroke="#0c0c0c" stroke-width="1.0"/><line x1="112.77" y1="233.65" x2="119.89" y2="233.65" stroke="#0c0c0c" stroke-width="1.0"/><line x1="112.77" y1="241.89" x2="119.89" y2="241.89" stroke="#0c0c0c" stroke-width="1.0"/><line x1="112.77" y1="250.13" x2="119.89" y2="250.13" stroke="#0c0c0c" stroke-width="1.0"/><line x1="114.54" y1="178.63" x2="114.54" y2="257.30" stroke="#0c0c0c" stroke-width="1.0"/><line x1="163.07" y1="217.17" x2="170.19" y2="217.17" stroke="#0c0c0c" stroke-width="1.0"/><line x1="163.07" y1="225.41" x2="170.19" y2="225.41" stroke="#0c0c0c" stroke-width="1.0"/><line x1="163.07" y1="233.65" x2="170.19" y2="233.65" stroke="#0c0c0c" stroke-width="1.0"/><line x1="163.07" y1="241.89" x2="170.19" y2="241.89" stroke="#0c0c0c" stroke-width="1.0"/><line x1="163.07" y1="250.13" x2="170.19" y2="250.13" stroke="#0c0c0c" stroke-width="1.0"/><line x1="163.98" y1="214.63" x2="163.98" y2="257.30" stroke="#0c0c0c" stroke-width="1.0"/><line x1="213.37" y1="208.93" x2="220.49" y2="208.93" stroke="#0c0c0c" stroke-width="1.0"/><line x1="213.37" y1="217.17" x2="220.49" y2="217.17" stroke="#0c0c0c" stroke-width="1.0"/><line x1="213.37" y1="225.41" x2="220.49" y2="225.41" stroke="#0c0c0c" stroke-width="1.0"/><line x1="213.37" y1="233.65" x2="220.49" y2="233.65" stroke="#0c0c0c" stroke-width="1.0"/><line x1="213.37" y1="241.89" x2="220.49" y2="241.89" stroke="#0c0c0c" stroke-width="1.0"/><line x1="213.37" y1="250.13" x2="220.49" y2="250.13" stroke="#0c0c0c" stroke-width="1.0"/><line x1="213.42" y1="201.77" x2="213.42" y2="257.30" stroke="#0c0c0c" stroke-width="1.0"/><line x1="263.67" y1="192.45" x2="270.79" y2="192.45" stroke="#0c0c0c" stroke-width="1.0"/><line x1="263.67" y1="200.69" x2="270.79" y2="200.69" stroke="#0c0c0c" stroke-width="1.0"/><line x1="263.67" y1="208.93" x2="270.79" y2="208.93" stroke="#0c0c0c" stroke-width="1.0"/><line x1="263.67" y1="217.17" x2="270.79" y2="217.17" stroke="#0c0c0c" stroke-width="1.0"/><line x1="263.67" y1="225.41" x2="270.79" y2="225.41" stroke="#0c0c0c" stroke-width="1.0"/><line x1="263.67" y1="233.65" x2="270.79" y2="233.65" stroke="#0c0c0c" stroke-width="1.0"/><line x1="263.67" y1="241.89" x2="270.79" y2="241.89" stroke="#0c0c0c" stroke-width="1.0"/><line x1="263.67" y1="250.13" x2="270.79" y2="250.13" stroke="#0c0c0c" stroke-width="1.0"/><line x1="313.97" y1="208.93" x2="321.09" y2="208.93" stroke="#0c0c0c" stroke-width="1.0"/><line x1="313.97" y1="217.17" x2="321.09" y2="217.17" stroke="#0c0c0c" stroke-width="1.0"/><line x1="313.97" y1="225.41" x2="321.09" y2="225.41" stroke="#0c0c0c" stroke-width="1.0"/><line x1="313.97" y1="233.65" x2="321.09" y2="233.65" stroke="#0c0c0c" stroke-width="1.0"/><line x1="313.97" y1="241.89" x2="321.09" y2="241.89" stroke="#0c0c0c" stroke-width="1.0"/><line x1="313.97" y1="250.13" x2="321.09" y2="250.13" stroke="#0c0c0c" stroke-width="1.0"/><line x1="320.54" y1="206.21" x2="320.54" y2="257.30" stroke="#0c0c0c" stroke-width="1.0"/></g>
<clipPath id="c8"><rect x="118.89" y="245.55" width="5.12" height="10.75"/><rect x="169.19" y="250.22" width="5.12" height="6.08"/><rect x="219.49" y="249.29" width="5.12" height="7.01"/><rect x="269.79" y="250.69" width="5.12" height="5.61"/><rect x="320.09" y="254.43" width="5.12" height="1.87"/></clipPath>
<g clip-path="url(#c8)"><line x1="120.72" y1="244.55" x2="120.72" y2="257.30" stroke="#17302a" stroke-width="1.0"/><line x1="124.84" y1="244.55" x2="124.84" y2="257.30" stroke="#17302a" stroke-width="1.0"/><line x1="170.16" y1="249.22" x2="170.16" y2="257.30" stroke="#17302a" stroke-width="1.0"/><line x1="174.28" y1="249.22" x2="174.28" y2="257.30" stroke="#17302a" stroke-width="1.0"/><line x1="219.60" y1="248.29" x2="219.60" y2="257.30" stroke="#17302a" stroke-width="1.0"/><line x1="223.72" y1="248.29" x2="223.72" y2="257.30" stroke="#17302a" stroke-width="1.0"/><line x1="269.04" y1="249.69" x2="269.04" y2="257.30" stroke="#17302a" stroke-width="1.0"/><line x1="273.16" y1="249.69" x2="273.16" y2="257.30" stroke="#17302a" stroke-width="1.0"/><line x1="322.60" y1="253.43" x2="322.60" y2="257.30" stroke="#17302a" stroke-width="1.0"/></g>
<rect x="70.60" y="67.30" width="267.20" height="189.00" fill="none" stroke="#1a1a1a" stroke-width="0.8"/>
<line x1="103.15" y1="256.3" x2="103.15" y2="258.70" stroke="#1a1a1a" stroke-width="0.7"/>
<text transform="translate(107.75,341.90) rotate(-90) scale(1.0278,1)" font-size="15.0">Not Verified</text>
<line x1="153.45" y1="256.3" x2="153.45" y2="258.70" stroke="#1a1a1a" stroke-width="0.7"/>
<text transform="translate(158.05,337.79) rotate(-90) scale(0.9959,1)" font-size="15.0">Suspended</text>
<line x1="203.75" y1="256.3" x2="203.75" y2="258.70" stroke="#1a1a1a" stroke-width="0.7"/>
<text transform="translate(208.35,331.88) rotate(-90) scale(0.9948,1)" font-size="15.0">Not Found</text>
<line x1="254.05" y1="256.3" x2="254.05" y2="258.70" stroke="#1a1a1a" stroke-width="0.7"/>
<text transform="translate(258.65,313.75) rotate(-90) scale(1.0303,1)" font-size="15.0">Verified</text>
<line x1="304.35" y1="256.3" x2="304.35" y2="258.70" stroke="#1a1a1a" stroke-width="0.7"/>
<text transform="translate(308.95,284.41) rotate(-90) scale(0.8883,1)" font-size="15.0">IRA</text>
<line x1="68.20" y1="256.30" x2="70.60" y2="256.30" stroke="#1a1a1a" stroke-width="0.7"/>
<text transform="translate(56.75,261.60) scale(1.0372,1)" font-size="15.0">0</text>
<line x1="68.20" y1="209.55" x2="70.60" y2="209.55" stroke="#1a1a1a" stroke-width="0.7"/>
<text transform="translate(48.09,214.85) scale(1.0372,1)" font-size="15.0">10</text>
<line x1="68.20" y1="162.80" x2="70.60" y2="162.80" stroke="#1a1a1a" stroke-width="0.7"/>
<text transform="translate(48.09,168.10) scale(1.0372,1)" font-size="15.0">20</text>
<line x1="68.20" y1="116.05" x2="70.60" y2="116.05" stroke="#1a1a1a" stroke-width="0.7"/>
<text transform="translate(48.09,121.35) scale(1.0372,1)" font-size="15.0">30</text>
<line x1="68.20" y1="69.30" x2="70.60" y2="69.30" stroke="#1a1a1a" stroke-width="0.7"/>
<text transform="translate(48.09,74.60) scale(1.0372,1)" font-size="15.0">40</text>
<text class="b" transform="translate(43.6,202.71) rotate(-90) scale(1.1189,1)" font-size="14.0">%of tweets</text>
<rect x="429.10" y="242.88" width="5.10" height="13.42" fill="#797979"/>
<rect x="433.90" y="245.00" width="0.75" height="11.30" fill="#797979"/>
<rect x="434.20" y="245.00" width="5.55" height="11.30" fill="#a24321"/>
<rect x="439.30" y="238.29" width="5.10" height="18.01" fill="#a64623"/>
<rect x="444.10" y="248.12" width="0.75" height="8.19" fill="#a64623"/>
<rect x="444.40" y="248.12" width="5.55" height="8.19" fill="#b97750"/>
<rect x="449.50" y="190.98" width="5.10" height="65.32" fill="#c39971"/>
<rect x="454.30" y="201.13" width="0.75" height="55.17" fill="#c39971"/>
<rect x="454.60" y="201.13" width="5.10" height="55.17" fill="#d1ca9f"/>
<rect x="459.40" y="223.89" width="0.75" height="32.41" fill="#d1ca9f"/>
<rect x="459.70" y="223.89" width="5.10" height="32.41" fill="#91a787"/>
<rect x="464.50" y="254.66" width="0.75" height="1.64" fill="#91a787"/>
<rect x="464.80" y="254.66" width="5.10" height="1.64" fill="#4f8472"/>
<rect x="479.50" y="156.44" width="5.10" height="99.86" fill="#797979"/>
<rect x="484.30" y="203.92" width="0.75" height="52.38" fill="#797979"/>
<rect x="484.60" y="203.92" width="5.10" height="52.38" fill="#a24321"/>
<rect x="489.40" y="219.14" width="0.75" height="37.16" fill="#a24321"/>
<rect x="489.70" y="219.14" width="5.10" height="37.16" fill="#a64623"/>
<rect x="494.50" y="240.26" width="0.75" height="16.04" fill="#a64623"/>
<rect x="494.80" y="240.26" width="5.55" height="16.04" fill="#b97750"/>
<rect x="499.90" y="171.34" width="5.10" height="84.96" fill="#c39971"/>
<rect x="504.70" y="192.95" width="0.75" height="63.35" fill="#c39971"/>
<rect x="505.00" y="192.95" width="5.10" height="63.35" fill="#d1ca9f"/>
<rect x="509.80" y="223.89" width="0.75" height="32.41" fill="#d1ca9f"/>
<rect x="510.10" y="223.89" width="5.10" height="32.41" fill="#91a787"/>
<rect x="514.90" y="253.19" width="0.75" height="3.11" fill="#91a787"/>
<rect x="515.20" y="253.19" width="5.10" height="3.11" fill="#4f8472"/>
<rect x="529.90" y="241.57" width="5.10" height="14.73" fill="#797979"/>
<rect x="534.70" y="245.00" width="0.75" height="11.30" fill="#797979"/>
<rect x="535.00" y="245.00" width="5.55" height="11.30" fill="#a24321"/>
<rect x="540.10" y="243.37" width="5.10" height="12.93" fill="#a64623"/>
<rect x="544.90" y="253.03" width="0.75" height="3.27" fill="#a64623"/>
<rect x="545.20" y="253.03" width="5.55" height="3.27" fill="#b97750"/>
<rect x="550.30" y="231.75" width="5.10" height="24.55" fill="#c39971"/>
<rect x="555.10" y="233.38" width="0.75" height="22.92" fill="#c39971"/>
<rect x="555.40" y="233.38" width="5.10" height="22.92" fill="#d1ca9f"/>
<rect x="560.20" y="240.75" width="0.75" height="15.55" fill="#d1ca9f"/>
<rect x="560.50" y="240.75" width="5.10" height="15.55" fill="#91a787"/>
<rect x="565.30" y="254.66" width="0.75" height="1.64" fill="#91a787"/>
<rect x="565.60" y="254.66" width="5.10" height="1.64" fill="#4f8472"/>
<rect x="580.30" y="253.84" width="5.55" height="2.46" fill="#797979"/>
<rect x="585.40" y="238.29" width="5.55" height="18.01" fill="#a24321"/>
<rect x="590.50" y="200.64" width="5.10" height="55.66" fill="#a64623"/>
<rect x="595.30" y="235.02" width="0.75" height="21.28" fill="#a64623"/>
<rect x="595.60" y="235.02" width="5.55" height="21.28" fill="#b97750"/>
<rect x="600.70" y="79.83" width="5.10" height="176.47" fill="#c39971"/>
<rect x="605.50" y="131.89" width="0.75" height="124.41" fill="#c39971"/>
<rect x="605.80" y="131.89" width="5.10" height="124.41" fill="#d1ca9f"/>
<rect x="610.60" y="174.45" width="0.75" height="81.85" fill="#d1ca9f"/>
<rect x="610.90" y="174.45" width="5.10" height="81.85" fill="#91a787"/>
<rect x="615.70" y="249.75" width="0.75" height="6.55" fill="#91a787"/>
<rect x="616.00" y="249.75" width="5.10" height="6.55" fill="#4f8472"/>
<rect x="630.70" y="240.75" width="5.10" height="15.55" fill="#797979"/>
<rect x="640.90" y="76.23" width="5.10" height="180.07" fill="#a64623"/>
<rect x="645.70" y="251.39" width="0.75" height="4.91" fill="#a64623"/>
<rect x="646.00" y="251.39" width="5.55" height="4.91" fill="#b97750"/>
<rect x="651.10" y="220.29" width="5.55" height="36.01" fill="#c39971"/>
<rect x="656.20" y="140.07" width="5.10" height="116.23" fill="#d1ca9f"/>
<rect x="661.00" y="233.38" width="0.75" height="22.92" fill="#d1ca9f"/>
<rect x="661.30" y="233.38" width="5.10" height="22.92" fill="#91a787"/>
<clipPath id="c9"><rect x="429.10" y="242.88" width="5.10" height="13.42"/><rect x="479.50" y="156.44" width="5.10" height="99.86"/><rect x="529.90" y="241.57" width="5.10" height="14.73"/><rect x="580.30" y="253.84" width="5.10" height="2.46"/><rect x="630.70" y="240.75" width="5.10" height="15.55"/></clipPath>
<g clip-path="url(#c9)"><circle cx="429.72" cy="241.89" r="1.1" fill="#0c0c0c"/><circle cx="433.84" cy="241.89" r="1.1" fill="#0c0c0c"/><circle cx="431.78" cy="246.01" r="1.1" fill="#0c0c0c"/><circle cx="429.72" cy="250.13" r="1.1" fill="#0c0c0c"/><circle cx="433.84" cy="250.13" r="1.1" fill="#0c0c0c"/><circle cx="431.78" cy="254.25" r="1.1" fill="#0c0c0c"/><circle cx="479.16" cy="159.49" r="1.1" fill="#0c0c0c"/><circle cx="483.28" cy="159.49" r="1.1" fill="#0c0c0c"/><circle cx="481.22" cy="163.61" r="1.1" fill="#0c0c0c"/><circle cx="485.34" cy="163.61" r="1.1" fill="#0c0c0c"/><circle cx="479.16" cy="167.73" r="1.1" fill="#0c0c0c"/><circle cx="483.28" cy="167.73" r="1.1" fill="#0c0c0c"/><circle cx="481.22" cy="171.85" r="1.1" fill="#0c0c0c"/><circle cx="485.34" cy="171.85" r="1.1" fill="#0c0c0c"/><circle cx="479.16" cy="175.97" r="1.1" fill="#0c0c0c"/><circle cx="483.28" cy="175.97" r="1.1" fill="#0c0c0c"/><circle cx="481.22" cy="180.09" r="1.1" fill="#0c0c0c"/><circle cx="485.34" cy="180.09" r="1.1" fill="#0c0c0c"/><circle cx="479.16" cy="184.21" r="1.1" fill="#0c0c0c"/><circle cx="483.28" cy="184.21" r="1.1" fill="#0c0c0c"/><circle cx="481.22" cy="188.33" r="1.1" fill="#0c0c0c"/><circle cx="485.34" cy="188.33" r="1.1" fill="#0c0c0c"/><circle cx="479.16" cy="192.45" r="1.1" fill="#0c0c0c"/><circle cx="483.28" cy="192.45" r="1.1" fill="#0c0c0c"/><circle cx="481.22" cy="196.57" r="1.1" fill="#0c0c0c"/><circle cx="485.34" cy="196.57" r="1.1" fill="#0c0c0c"/><circle cx="479.16" cy="200.69" r="1.1" fill="#0c0c0c"/><circle cx="483.28" cy="200.69" r="1.1" fill="#0c0c0c"/><circle cx="481.22" cy="204.81" r="1.1" fill="#0c0c0c"/><circle cx="485.34" cy="204.81" r="1.1" fill="#0c0c0c"/><circle cx="479.16" cy="208.93" r="1.1" fill="#0c0c0c"/><circle cx="483.28" cy="208.93" r="1.1" fill="#0c0c0c"/><circle cx="481.22" cy="213.05" r="1.1" fill="#0c0c0c"/><circle cx="485.34" cy="213.05" r="1.1" fill="#0c0c0c"/><circle cx="479.16" cy="217.17" r="1.1" fill="#0c0c0c"/><circle cx="483.28" cy="217.17" r="1.1" fill="#0c0c0c"/><circle cx="481.22" cy="221.29" r="1.1" fill="#0c0c0c"/><circle cx="485.34" cy="221.29" r="1.1" fill="#0c0c0c"/><circle cx="479.16" cy="225.41" r="1.1" fill="#0c0c0c"/><circle cx="483.28" cy="225.41" r="1.1" fill="#0c0c0c"/><circle cx="481.22" cy="229.53" r="1.1" fill="#0c0c0c"/><circle cx="485.34" cy="229.53" r="1.1" fill="#0c0c0c"/><circle cx="479.16" cy="233.65" r="1.1" fill="#0c0c0c"/><circle cx="483.28" cy="233.65" r="1.1" fill="#0c0c0c"/><circle cx="481.22" cy="237.77" r="1.1" fill="#0c0c0c"/><circle cx="485.34" cy="237.77" r="1.1" fill="#0c0c0c"/><circle cx="479.16" cy="241.89" r="1.1" fill="#0c0c0c"/><circle cx="483.28" cy="241.89" r="1.1" fill="#0c0c0c"/><circle cx="481.22" cy="246.01" r="1.1" fill="#0c0c0c"/><circle cx="485.34" cy="246.01" r="1.1" fill="#0c0c0c"/><circle cx="479.16" cy="250.13" r="1.1" fill="#0c0c0c"/><circle cx="483.28" cy="250.13" r="1.1" fill="#0c0c0c"/><circle cx="481.22" cy="254.25" r="1.1" fill="#0c0c0c"/><circle cx="485.34" cy="254.25" r="1.1" fill="#0c0c0c"/><circle cx="532.72" cy="241.89" r="1.1" fill="#0c0c0c"/><circle cx="530.66" cy="246.01" r="1.1" fill="#0c0c0c"/><circle cx="534.78" cy="246.01" r="1.1" fill="#0c0c0c"/><circle cx="532.72" cy="250.13" r="1.1" fill="#0c0c0c"/><circle cx="530.66" cy="254.25" r="1.1" fill="#0c0c0c"/><circle cx="534.78" cy="254.25" r="1.1" fill="#0c0c0c"/><circle cx="580.10" cy="254.25" r="1.1" fill="#0c0c0c"/><circle cx="584.22" cy="254.25" r="1.1" fill="#0c0c0c"/><circle cx="631.60" cy="241.89" r="1.1" fill="#0c0c0c"/><circle cx="635.72" cy="241.89" r="1.1" fill="#0c0c0c"/><circle cx="633.66" cy="246.01" r="1.1" fill="#0c0c0c"/><circle cx="631.60" cy="250.13" r="1.1" fill="#0c0c0c"/><circle cx="635.72" cy="250.13" r="1.1" fill="#0c0c0c"/><circle cx="633.66" cy="254.25" r="1.1" fill="#0c0c0c"/></g>
<clipPath id="c10"><rect x="434.20" y="245.00" width="5.10" height="11.30"/><rect x="484.60" y="203.92" width="5.10" height="52.38"/><rect x="535.00" y="245.00" width="5.10" height="11.30"/><rect x="585.40" y="238.29" width="5.10" height="18.01"/></clipPath>
<g clip-path="url(#c10)"><line x1="433.20" y1="244.59" x2="440.30" y2="237.49" stroke="#0c0c0c" stroke-width="1.0"/><line x1="433.20" y1="252.83" x2="440.30" y2="245.73" stroke="#0c0c0c" stroke-width="1.0"/><line x1="433.20" y1="261.07" x2="440.30" y2="253.97" stroke="#0c0c0c" stroke-width="1.0"/><line x1="483.60" y1="210.67" x2="490.70" y2="203.57" stroke="#0c0c0c" stroke-width="1.0"/><line x1="483.60" y1="218.91" x2="490.70" y2="211.81" stroke="#0c0c0c" stroke-width="1.0"/><line x1="483.60" y1="227.15" x2="490.70" y2="220.05" stroke="#0c0c0c" stroke-width="1.0"/><line x1="483.60" y1="235.39" x2="490.70" y2="228.29" stroke="#0c0c0c" stroke-width="1.0"/><line x1="483.60" y1="243.63" x2="490.70" y2="236.53" stroke="#0c0c0c" stroke-width="1.0"/><line x1="483.60" y1="251.87" x2="490.70" y2="244.77" stroke="#0c0c0c" stroke-width="1.0"/><line x1="483.60" y1="260.11" x2="490.70" y2="253.01" stroke="#0c0c0c" stroke-width="1.0"/><line x1="534.00" y1="250.91" x2="541.10" y2="243.81" stroke="#0c0c0c" stroke-width="1.0"/><line x1="534.00" y1="259.15" x2="541.10" y2="252.05" stroke="#0c0c0c" stroke-width="1.0"/><line x1="584.40" y1="241.71" x2="591.50" y2="234.61" stroke="#0c0c0c" stroke-width="1.0"/><line x1="584.40" y1="249.95" x2="591.50" y2="242.85" stroke="#0c0c0c" stroke-width="1.0"/><line x1="584.40" y1="258.19" x2="591.50" y2="251.09" stroke="#0c0c0c" stroke-width="1.0"/></g>
<clipPath id="c11"><rect x="439.30" y="238.29" width="5.10" height="18.01"/><rect x="489.70" y="219.14" width="5.10" height="37.16"/><rect x="540.10" y="243.37" width="5.10" height="12.93"/><rect x="590.50" y="200.64" width="5.10" height="55.66"/><rect x="640.90" y="76.23" width="5.10" height="180.07"/></clipPath>
<g clip-path="url(#c11)"><line x1="438.30" y1="239.14" x2="445.40" y2="239.14" stroke="#0c0c0c" stroke-width="0.8"/><line x1="438.30" y1="241.89" x2="445.40" y2="241.89" stroke="#0c0c0c" stroke-width="0.8"/><line x1="438.30" y1="244.64" x2="445.40" y2="244.64" stroke="#0c0c0c" stroke-width="0.8"/><line x1="438.30" y1="247.38" x2="445.40" y2="247.38" stroke="#0c0c0c" stroke-width="0.8"/><line x1="438.30" y1="250.13" x2="445.40" y2="250.13" stroke="#0c0c0c" stroke-width="0.8"/><line x1="438.30" y1="252.88" x2="445.40" y2="252.88" stroke="#0c0c0c" stroke-width="0.8"/><line x1="438.30" y1="255.62" x2="445.40" y2="255.62" stroke="#0c0c0c" stroke-width="0.8"/><line x1="488.70" y1="219.92" x2="495.80" y2="219.92" stroke="#0c0c0c" stroke-width="0.8"/><line x1="488.70" y1="222.66" x2="495.80" y2="222.66" stroke="#0c0c0c" stroke-width="0.8"/><line x1="488.70" y1="225.41" x2="495.80" y2="225.41" stroke="#0c0c0c" stroke-width="0.8"/><line x1="488.70" y1="228.16" x2="495.80" y2="228.16" stroke="#0c0c0c" stroke-width="0.8"/><line x1="488.70" y1="230.90" x2="495.80" y2="230.90" stroke="#0c0c0c" stroke-width="0.8"/><line x1="488.70" y1="233.65" x2="495.80" y2="233.65" stroke="#0c0c0c" stroke-width="0.8"/><line x1="488.70" y1="236.40" x2="495.80" y2="236.40" stroke="#0c0c0c" stroke-width="0.8"/><line x1="488.70" y1="239.14" x2="495.80" y2="239.14" stroke="#0c0c0c" stroke-width="0.8"/><line x1="488.70" y1="241.89" x2="495.80" y2="241.89" stroke="#0c0c0c" stroke-width="0.8"/><line x1="488.70" y1="244.64" x2="495.80" y2="244.64" stroke="#0c0c0c" stroke-width="0.8"/><line x1="488.70" y1="247.38" x2="495.80" y2="247.38" stroke="#0c0c0c" stroke-width="0.8"/><line x1="488.70" y1="250.13" x2="495.80" y2="250.13" stroke="#0c0c0c" stroke-width="0.8"/><line x1="488.70" y1="252.88" x2="495.80" y2="252.88" stroke="#0c0c0c" stroke-width="0.8"/><line x1="488.70" y1="255.62" x2="495.80" y2="255.62" stroke="#0c0c0c" stroke-width="0.8"/><line x1="539.10" y1="244.64" x2="546.20" y2="244.64" stroke="#0c0c0c" stroke-width="0.8"/><line x1="539.10" y1="247.38" x2="546.20" y2="247.38" stroke="#0c0c0c" stroke-width="0.8"/><line x1="539.10" y1="250.13" x2="546.20" y2="250.13" stroke="#0c0c0c" stroke-width="0.8"/><line x1="539.10" y1="252.88" x2="546.20" y2="252.88" stroke="#0c0c0c" stroke-width="0.8"/><line x1="539.10" y1="255.62" x2="546.20" y2="255.62" stroke="#0c0c0c" stroke-width="0.8"/><line x1="589.50" y1="200.69" x2="596.60" y2="200.69" stroke="#0c0c0c" stroke-width="0.8"/><line x1="589.50" y1="203.44" x2="596.60" y2="203.44" stroke="#0c0c0c" stroke-width="0.8"/><line x1="589.50" y1="206.18" x2="596.60" y2="206.18" stroke="#0c0c0c" stroke-width="0.8"/><line x1="589.50" y1="208.93" x2="596.60" y2="208.93" stroke="#0c0c0c" stroke-width="0.8"/><line x1="589.50" y1="211.68" x2="596.60" y2="211.68" stroke="#0c0c0c" stroke-width="0.8"/><line x1="589.50" y1="214.42" x2="596.60" y2="214.42" stroke="#0c0c0c" stroke-width="0.8"/><line x1="589.50" y1="217.17" x2="596.60" y2="217.17" stroke="#0c0c0c" stroke-width="0.8"/><line x1="589.50" y1="219.92" x2="596.60" y2="219.92" stroke="#0c0c0c" stroke-width="0.8"/><line x1="589.50" y1="222.66" x2="596.60" y2="222.66" stroke="#0c0c0c" stroke-width="0.8"/><line x1="589.50" y1="225.41" x2="596.60" y2="225.41" stroke="#0c0c0c" stroke-width="0.8"/><line x1="589.50" y1="228.16" x2="596.60" y2="228.16" stroke="#0c0c0c" stroke-width="0.8"/><line x1="589.50" y1="230.90" x2="596.60" y2="230.90" stroke="#0c0c0c" stroke-width="0.8"/><line x1="589.50" y1="233.65" x2="596.60" y2="233.65" stroke="#0c0c0c" stroke-width="0.8"/><line x1="589.50" y1="236.40" x2="596.60" y2="236.40" stroke="#0c0c0c" stroke-width="0.8"/><line x1="589.50" y1="239.14" x2="596.60" y2="239.14" stroke="#0c0c0c" stroke-width="0.8"/><line x1="589.50" y1="241.89" x2="596.60" y2="241.89" stroke="#0c0c0c" stroke-width="0.8"/><line x1="589.50" y1="244.64" x2="596.60" y2="244.64" stroke="#0c0c0c" stroke-width="0.8"/><line x1="589.50" y1="247.38" x2="596.60" y2="247.38" stroke="#0c0c0c" stroke-width="0.8"/><line x1="589.50" y1="250.13" x2="596.60" y2="250.13" stroke="#0c0c0c" stroke-width="0.8"/><line x1="589.50" y1="252.88" x2="596.60" y2="252.88" stroke="#0c0c0c" stroke-width="0.8"/><line x1="589.50" y1="255.62" x2="596.60" y2="255.62" stroke="#0c0c0c" stroke-width="0.8"/><line x1="639.90" y1="77.09" x2="647.00" y2="77.09" stroke="#0c0c0c" stroke-width="0.8"/><line x1="639.90" y1="79.84" x2="647.00" y2="79.84" stroke="#0c0c0c" stroke-width="0.8"/><line x1="639.90" y1="82.58" x2="647.00" y2="82.58" stroke="#0c0c0c" stroke-width="0.8"/><line x1="639.90" y1="85.33" x2="647.00" y2="85.33" stroke="#0c0c0c" stroke-width="0.8"/><line x1="639.90" y1="88.08" x2="647.00" y2="88.08" stroke="#0c0c0c" stroke-width="0.8"/><line x1="639.90" y1="90.82" x2="647.00" y2="90.82" stroke="#0c0c0c" stroke-width="0.8"/><line x1="639.90" y1="93.57" x2="647.00" y2="93.57" stroke="#0c0c0c" stroke-width="0.8"/><line x1="639.90" y1="96.32" x2="647.00" y2="96.32" stroke="#0c0c0c" stroke-width="0.8"/><line x1="639.90" y1="99.06" x2="647.00" y2="99.06" stroke="#0c0c0c" stroke-width="0.8"/><line x1="639.90" y1="101.81" x2="647.00" y2="101.81" stroke="#0c0c0c" stroke-width="0.8"/><line x1="639.90" y1="104.56" x2="647.00" y2="104.56" stroke="#0c0c0c" stroke-width="0.8"/><line x1="639.90" y1="107.30" x2="647.00" y2="107.30" stroke="#0c0c0c" stroke-width="0.8"/><line x1="639.90" y1="110.05" x2="647.00" y2="110.05" stroke="#0c0c0c" stroke-width="0.8"/><line x1="639.90" y1="112.80" x2="647.00" y2="112.80" stroke="#0c0c0c" stroke-width="0.8"/><line x1="639.90" y1="115.54" x2="647.00" y2="115.54" stroke="#0c0c0c" stroke-width="0.8"/><line x1="639.90" y1="118.29" x2="647.00" y2="118.29" stroke="#0c0c0c" stroke-width="0.8"/><line x1="639.90" y1="121.04" x2="647.00" y2="121.04" stroke="#0c0c0c" stroke-width="0.8"/><line x1="639.90" y1="123.78" x2="647.00" y2="123.78" stroke="#0c0c0c" stroke-width="0.8"/><line x1="639.90" y1="126.53" x2="647.00" y2="126.53" stroke="#0c0c0c" stroke-width="0.8"/><line x1="639.90" y1="129.28" x2="647.00" y2="129.28" stroke="#0c0c0c" stroke-width="0.8"/><line x1="639.90" y1="132.02" x2="647.00" y2="132.02" stroke="#0c0c0c" stroke-width="0.8"/><line x1="639.90" y1="134.77" x2="647.00" y2="134.77" stroke="#0c0c0c" stroke-width="0.8"/><line x1="639.90" y1="137.52" x2="647.00" y2="137.52" stroke="#0c0c0c" stroke-width="0.8"/><line x1="639.90" y1="140.26" x2="647.00" y2="140.26" stroke="#0c0c0c" stroke-width="0.8"/><line x1="639.90" y1="143.01" x2="647.00" y2="143.01" stroke="#0c0c0c" stroke-width="0.8"/><line x1="639.90" y1="145.76" x2="647.00" y2="145.76" stroke="#0c0c0c" stroke-width="0.8"/><line x1="639.90" y1="148.50" x2="647.00" y2="148.50" stroke="#0c0c0c" stroke-width="0.8"/><line x1="639.90" y1="151.25" x2="647.00" y2="151.25" stroke="#0c0c0c" stroke-width="0.8"/><line x1="639.90" y1="154.00" x2="647.00" y2="154.00" stroke="#0c0c0c" stroke-width="0.8"/><line x1="639.90" y1="156.74" x2="647.00" y2="156.74" stroke="#0c0c0c" stroke-width="0.8"/><line x1="639.90" y1="159.49" x2="647.00" y2="159.49" stroke="#0c0c0c" stroke-width="0.8"/><line x1="639.90" y1="162.24" x2="647.00" y2="162.24" stroke="#0c0c0c" stroke-width="0.8"/><line x1="639.90" y1="164.98" x2="647.00" y2="164.98" stroke="#0c0c0c" stroke-width="0.8"/><line x1="639.90" y1="167.73" x2="647.00" y2="167.73" stroke="#0c0c0c" stroke-width="0.8"/><line x1="639.90" y1="170.48" x2="647.00" y2="170.48" stroke="#0c0c0c" stroke-width="0.8"/><line x1="639.90" y1="173.22" x2="647.00" y2="173.22" stroke="#0c0c0c" stroke-width="0.8"/><line x1="639.90" y1="175.97" x2="647.00" y2="175.97" stroke="#0c0c0c" stroke-width="0.8"/><line x1="639.90" y1="178.72" x2="647.00" y2="178.72" stroke="#0c0c0c" stroke-width="0.8"/><line x1="639.90" y1="181.46" x2="647.00" y2="181.46" stroke="#0c0c0c" stroke-width="0.8"/><line x1="639.90" y1="184.21" x2="647.00" y2="184.21" stroke="#0c0c0c" stroke-width="0.8"/><line x1="639.90" y1="186.96" x2="647.00" y2="186.96" stroke="#0c0c0c" stroke-width="0.8"/><line x1="639.90" y1="189.70" x2="647.00" y2="189.70" stroke="#0c0c0c" stroke-width="0.8"/><line x1="639.90" y1="192.45" x2="647.00" y2="192.45" stroke="#0c0c0c" stroke-width="0.8"/><line x1="639.90" y1="195.20" x2="647.00" y2="195.20" stroke="#0c0c0c" stroke-width="0.8"/><line x1="639.90" y1="197.94" x2="647.00" y2="197.94" stroke="#0c0c0c" stroke-width="0.8"/><line x1="639.90" y1="200.69" x2="647.00" y2="200.69" stroke="#0c0c0c" stroke-width="0.8"/><line x1="639.90" y1="203.44" x2="647.00" y2="203.44" stroke="#0c0c0c" stroke-width="0.8"/><line x1="639.90" y1="206.18" x2="647.00" y2="206.18" stroke="#0c0c0c" stroke-width="0.8"/><line x1="639.90" y1="208.93" x2="647.00" y2="208.93" stroke="#0c0c0c" stroke-width="0.8"/><line x1="639.90" y1="211.68" x2="647.00" y2="211.68" stroke="#0c0c0c" stroke-width="0.8"/><line x1="639.90" y1="214.42" x2="647.00" y2="214.42" stroke="#0c0c0c" stroke-width="0.8"/><line x1="639.90" y1="217.17" x2="647.00" y2="217.17" stroke="#0c0c0c" stroke-width="0.8"/><line x1="639.90" y1="219.92" x2="647.00" y2="219.92" stroke="#0c0c0c" stroke-width="0.8"/><line x1="639.90" y1="222.66" x2="647.00" y2="222.66" stroke="#0c0c0c" stroke-width="0.8"/><line x1="639.90" y1="225.41" x2="647.00" y2="225.41" stroke="#0c0c0c" stroke-width="0.8"/><line x1="639.90" y1="228.16" x2="647.00" y2="228.16" stroke="#0c0c0c" stroke-width="0.8"/><line x1="639.90" y1="230.90" x2="647.00" y2="230.90" stroke="#0c0c0c" stroke-width="0.8"/><line x1="639.90" y1="233.65" x2="647.00" y2="233.65" stroke="#0c0c0c" stroke-width="0.8"/><line x1="639.90" y1="236.40" x2="647.00" y2="236.40" stroke="#0c0c0c" stroke-width="0.8"/><line x1="639.90" y1="239.14" x2="647.00" y2="239.14" stroke="#0c0c0c" stroke-width="0.8"/><line x1="639.90" y1="241.89" x2="647.00" y2="241.89" stroke="#0c0c0c" stroke-width="0.8"/><line x1="639.90" y1="244.64" x2="647.00" y2="244.64" stroke="#0c0c0c" stroke-width="0.8"/><line x1="639.90" y1="247.38" x2="647.00" y2="247.38" stroke="#0c0c0c" stroke-width="0.8"/><line x1="639.90" y1="250.13" x2="647.00" y2="250.13" stroke="#0c0c0c" stroke-width="0.8"/><line x1="639.90" y1="252.88" x2="647.00" y2="252.88" stroke="#0c0c0c" stroke-width="0.8"/><line x1="639.90" y1="255.62" x2="647.00" y2="255.62" stroke="#0c0c0c" stroke-width="0.8"/></g>
<clipPath id="c12"><rect x="444.40" y="248.12" width="5.10" height="8.19"/><rect x="494.80" y="240.26" width="5.10" height="16.04"/><rect x="545.20" y="253.03" width="5.10" height="3.27"/><rect x="595.60" y="235.02" width="5.10" height="21.28"/><rect x="646.00" y="251.39" width="5.10" height="4.91"/></clipPath>
<g clip-path="url(#c12)"><line x1="443.40" y1="250.87" x2="450.50" y2="243.77" stroke="#0c0c0c" stroke-width="1.0"/><line x1="443.40" y1="259.11" x2="450.50" y2="252.01" stroke="#0c0c0c" stroke-width="1.0"/><line x1="443.40" y1="249.39" x2="450.50" y2="256.49" stroke="#0c0c0c" stroke-width="1.0"/><line x1="443.40" y1="241.15" x2="450.50" y2="248.25" stroke="#0c0c0c" stroke-width="1.0"/><line x1="493.80" y1="241.67" x2="500.90" y2="234.57" stroke="#0c0c0c" stroke-width="1.0"/><line x1="493.80" y1="249.91" x2="500.90" y2="242.81" stroke="#0c0c0c" stroke-width="1.0"/><line x1="493.80" y1="258.15" x2="500.90" y2="251.05" stroke="#0c0c0c" stroke-width="1.0"/><line x1="493.80" y1="250.35" x2="500.90" y2="257.45" stroke="#0c0c0c" stroke-width="1.0"/><line x1="493.80" y1="242.11" x2="500.90" y2="249.21" stroke="#0c0c0c" stroke-width="1.0"/><line x1="493.80" y1="233.87" x2="500.90" y2="240.97" stroke="#0c0c0c" stroke-width="1.0"/><line x1="544.20" y1="257.19" x2="551.30" y2="250.09" stroke="#0c0c0c" stroke-width="1.0"/><line x1="544.20" y1="251.31" x2="551.30" y2="258.41" stroke="#0c0c0c" stroke-width="1.0"/><line x1="594.60" y1="239.75" x2="601.70" y2="232.65" stroke="#0c0c0c" stroke-width="1.0"/><line x1="594.60" y1="247.99" x2="601.70" y2="240.89" stroke="#0c0c0c" stroke-width="1.0"/><line x1="594.60" y1="256.23" x2="601.70" y2="249.13" stroke="#0c0c0c" stroke-width="1.0"/><line x1="594.60" y1="252.27" x2="601.70" y2="259.37" stroke="#0c0c0c" stroke-width="1.0"/><line x1="594.60" y1="244.03" x2="601.70" y2="251.13" stroke="#0c0c0c" stroke-width="1.0"/><line x1="594.60" y1="235.79" x2="601.70" y2="242.89" stroke="#0c0c0c" stroke-width="1.0"/><line x1="594.60" y1="227.55" x2="601.70" y2="234.65" stroke="#0c0c0c" stroke-width="1.0"/><line x1="645.00" y1="255.27" x2="652.10" y2="248.17" stroke="#0c0c0c" stroke-width="1.0"/><line x1="645.00" y1="263.51" x2="652.10" y2="256.41" stroke="#0c0c0c" stroke-width="1.0"/><line x1="645.00" y1="253.23" x2="652.10" y2="260.33" stroke="#0c0c0c" stroke-width="1.0"/><line x1="645.00" y1="244.99" x2="652.10" y2="252.09" stroke="#0c0c0c" stroke-width="1.0"/></g>
<clipPath id="c13"><rect x="449.50" y="190.98" width="5.10" height="65.32"/><rect x="499.90" y="171.34" width="5.10" height="84.96"/><rect x="550.30" y="231.75" width="5.10" height="24.55"/><rect x="600.70" y="79.83" width="5.10" height="176.47"/><rect x="651.10" y="220.29" width="5.10" height="36.01"/></clipPath>
<g clip-path="url(#c13)"><line x1="448.50" y1="254.49" x2="455.60" y2="261.59" stroke="#0c0c0c" stroke-width="1.0"/><line x1="448.50" y1="246.25" x2="455.60" y2="253.35" stroke="#0c0c0c" stroke-width="1.0"/><line x1="448.50" y1="238.01" x2="455.60" y2="245.11" stroke="#0c0c0c" stroke-width="1.0"/><line x1="448.50" y1="229.77" x2="455.60" y2="236.87" stroke="#0c0c0c" stroke-width="1.0"/><line x1="448.50" y1="221.53" x2="455.60" y2="228.63" stroke="#0c0c0c" stroke-width="1.0"/><line x1="448.50" y1="213.29" x2="455.60" y2="220.39" stroke="#0c0c0c" stroke-width="1.0"/><line x1="448.50" y1="205.05" x2="455.60" y2="212.15" stroke="#0c0c0c" stroke-width="1.0"/><line x1="448.50" y1="196.81" x2="455.60" y2="203.91" stroke="#0c0c0c" stroke-width="1.0"/><line x1="448.50" y1="188.57" x2="455.60" y2="195.67" stroke="#0c0c0c" stroke-width="1.0"/><line x1="498.90" y1="255.45" x2="506.00" y2="262.55" stroke="#0c0c0c" stroke-width="1.0"/><line x1="498.90" y1="247.21" x2="506.00" y2="254.31" stroke="#0c0c0c" stroke-width="1.0"/><line x1="498.90" y1="238.97" x2="506.00" y2="246.07" stroke="#0c0c0c" stroke-width="1.0"/><line x1="498.90" y1="230.73" x2="506.00" y2="237.83" stroke="#0c0c0c" stroke-width="1.0"/><line x1="498.90" y1="222.49" x2="506.00" y2="229.59" stroke="#0c0c0c" stroke-width="1.0"/><line x1="498.90" y1="214.25" x2="506.00" y2="221.35" stroke="#0c0c0c" stroke-width="1.0"/><line x1="498.90" y1="206.01" x2="506.00" y2="213.11" stroke="#0c0c0c" stroke-width="1.0"/><line x1="498.90" y1="197.77" x2="506.00" y2="204.87" stroke="#0c0c0c" stroke-width="1.0"/><line x1="498.90" y1="189.53" x2="506.00" y2="196.63" stroke="#0c0c0c" stroke-width="1.0"/><line x1="498.90" y1="181.29" x2="506.00" y2="188.39" stroke="#0c0c0c" stroke-width="1.0"/><line x1="498.90" y1="173.05" x2="506.00" y2="180.15" stroke="#0c0c0c" stroke-width="1.0"/><line x1="498.90" y1="164.81" x2="506.00" y2="171.91" stroke="#0c0c0c" stroke-width="1.0"/><line x1="549.30" y1="256.41" x2="556.40" y2="263.51" stroke="#0c0c0c" stroke-width="1.0"/><line x1="549.30" y1="248.17" x2="556.40" y2="255.27" stroke="#0c0c0c" stroke-width="1.0"/><line x1="549.30" y1="239.93" x2="556.40" y2="247.03" stroke="#0c0c0c" stroke-width="1.0"/><line x1="549.30" y1="231.69" x2="556.40" y2="238.79" stroke="#0c0c0c" stroke-width="1.0"/><line x1="599.70" y1="249.13" x2="606.80" y2="256.23" stroke="#0c0c0c" stroke-width="1.0"/><line x1="599.70" y1="240.89" x2="606.80" y2="247.99" stroke="#0c0c0c" stroke-width="1.0"/><line x1="599.70" y1="232.65" x2="606.80" y2="239.75" stroke="#0c0c0c" stroke-width="1.0"/><line x1="599.70" y1="224.41" x2="606.80" y2="231.51" stroke="#0c0c0c" stroke-width="1.0"/><line x1="599.70" y1="216.17" x2="606.80" y2="223.27" stroke="#0c0c0c" stroke-width="1.0"/><line x1="599.70" y1="207.93" x2="606.80" y2="215.03" stroke="#0c0c0c" stroke-width="1.0"/><line x1="599.70" y1="199.69" x2="606.80" y2="206.79" stroke="#0c0c0c" stroke-width="1.0"/><line x1="599.70" y1="191.45" x2="606.80" y2="198.55" stroke="#0c0c0c" stroke-width="1.0"/><line x1="599.70" y1="183.21" x2="606.80" y2="190.31" stroke="#0c0c0c" stroke-width="1.0"/><line x1="599.70" y1="174.97" x2="606.80" y2="182.07" stroke="#0c0c0c" stroke-width="1.0"/><line x1="599.70" y1="166.73" x2="606.80" y2="173.83" stroke="#0c0c0c" stroke-width="1.0"/><line x1="599.70" y1="158.49" x2="606.80" y2="165.59" stroke="#0c0c0c" stroke-width="1.0"/><line x1="599.70" y1="150.25" x2="606.80" y2="157.35" stroke="#0c0c0c" stroke-width="1.0"/><line x1="599.70" y1="142.01" x2="606.80" y2="149.11" stroke="#0c0c0c" stroke-width="1.0"/><line x1="599.70" y1="133.77" x2="606.80" y2="140.87" stroke="#0c0c0c" stroke-width="1.0"/><line x1="599.70" y1="125.53" x2="606.80" y2="132.63" stroke="#0c0c0c" stroke-width="1.0"/><line x1="599.70" y1="117.29" x2="606.80" y2="124.39" stroke="#0c0c0c" stroke-width="1.0"/><line x1="599.70" y1="109.05" x2="606.80" y2="116.15" stroke="#0c0c0c" stroke-width="1.0"/><line x1="599.70" y1="100.81" x2="606.80" y2="107.91" stroke="#0c0c0c" stroke-width="1.0"/><line x1="599.70" y1="92.57" x2="606.80" y2="99.67" stroke="#0c0c0c" stroke-width="1.0"/><line x1="599.70" y1="84.33" x2="606.80" y2="91.43" stroke="#0c0c0c" stroke-width="1.0"/><line x1="599.70" y1="76.09" x2="606.80" y2="83.19" stroke="#0c0c0c" stroke-width="1.0"/><line x1="650.10" y1="250.09" x2="657.20" y2="257.19" stroke="#0c0c0c" stroke-width="1.0"/><line x1="650.10" y1="241.85" x2="657.20" y2="248.95" stroke="#0c0c0c" stroke-width="1.0"/><line x1="650.10" y1="233.61" x2="657.20" y2="240.71" stroke="#0c0c0c" stroke-width="1.0"/><line x1="650.10" y1="225.37" x2="657.20" y2="232.47" stroke="#0c0c0c" stroke-width="1.0"/><line x1="650.10" y1="217.13" x2="657.20" y2="224.23" stroke="#0c0c0c" stroke-width="1.0"/></g>
<clipPath id="c14"><rect x="454.60" y="201.13" width="5.10" height="55.17"/><rect x="505.00" y="192.95" width="5.10" height="63.35"/><rect x="555.40" y="233.38" width="5.10" height="22.92"/><rect x="605.80" y="131.89" width="5.10" height="124.41"/><rect x="656.20" y="140.07" width="5.10" height="116.23"/></clipPath>
<g clip-path="url(#c14)"><circle cx="456.50" cy="204.81" r="2.88" fill="none" stroke="#0c0c0c" stroke-width="1.0"/><circle cx="452.38" cy="213.05" r="2.88" fill="none" stroke="#0c0c0c" stroke-width="1.0"/><circle cx="460.62" cy="213.05" r="2.88" fill="none" stroke="#0c0c0c" stroke-width="1.0"/><circle cx="456.50" cy="221.29" r="2.88" fill="none" stroke="#0c0c0c" stroke-width="1.0"/><circle cx="452.38" cy="229.53" r="2.88" fill="none" stroke="#0c0c0c" stroke-width="1.0"/><circle cx="460.62" cy="229.53" r="2.88" fill="none" stroke="#0c0c0c" stroke-width="1.0"/><circle cx="456.50" cy="237.77" r="2.88" fill="none" stroke="#0c0c0c" stroke-width="1.0"/><circle cx="452.38" cy="246.01" r="2.88" fill="none" stroke="#0c0c0c" stroke-width="1.0"/><circle cx="460.62" cy="246.01" r="2.88" fill="none" stroke="#0c0c0c" stroke-width="1.0"/><circle cx="456.50" cy="254.25" r="2.88" fill="none" stroke="#0c0c0c" stroke-width="1.0"/><circle cx="501.82" cy="196.57" r="2.88" fill="none" stroke="#0c0c0c" stroke-width="1.0"/><circle cx="510.06" cy="196.57" r="2.88" fill="none" stroke="#0c0c0c" stroke-width="1.0"/><circle cx="505.94" cy="204.81" r="2.88" fill="none" stroke="#0c0c0c" stroke-width="1.0"/><circle cx="501.82" cy="213.05" r="2.88" fill="none" stroke="#0c0c0c" stroke-width="1.0"/><circle cx="510.06" cy="213.05" r="2.88" fill="none" stroke="#0c0c0c" stroke-width="1.0"/><circle cx="505.94" cy="221.29" r="2.88" fill="none" stroke="#0c0c0c" stroke-width="1.0"/><circle cx="501.82" cy="229.53" r="2.88" fill="none" stroke="#0c0c0c" stroke-width="1.0"/><circle cx="510.06" cy="229.53" r="2.88" fill="none" stroke="#0c0c0c" stroke-width="1.0"/><circle cx="505.94" cy="237.77" r="2.88" fill="none" stroke="#0c0c0c" stroke-width="1.0"/><circle cx="501.82" cy="246.01" r="2.88" fill="none" stroke="#0c0c0c" stroke-width="1.0"/><circle cx="510.06" cy="246.01" r="2.88" fill="none" stroke="#0c0c0c" stroke-width="1.0"/><circle cx="505.94" cy="254.25" r="2.88" fill="none" stroke="#0c0c0c" stroke-width="1.0"/><circle cx="559.50" cy="229.53" r="2.88" fill="none" stroke="#0c0c0c" stroke-width="1.0"/><circle cx="555.38" cy="237.77" r="2.88" fill="none" stroke="#0c0c0c" stroke-width="1.0"/><circle cx="563.62" cy="237.77" r="2.88" fill="none" stroke="#0c0c0c" stroke-width="1.0"/><circle cx="559.50" cy="246.01" r="2.88" fill="none" stroke="#0c0c0c" stroke-width="1.0"/><circle cx="555.38" cy="254.25" r="2.88" fill="none" stroke="#0c0c0c" stroke-width="1.0"/><circle cx="563.62" cy="254.25" r="2.88" fill="none" stroke="#0c0c0c" stroke-width="1.0"/><circle cx="608.94" cy="130.65" r="2.88" fill="none" stroke="#0c0c0c" stroke-width="1.0"/><circle cx="604.82" cy="138.89" r="2.88" fill="none" stroke="#0c0c0c" stroke-width="1.0"/><circle cx="613.06" cy="138.89" r="2.88" fill="none" stroke="#0c0c0c" stroke-width="1.0"/><circle cx="608.94" cy="147.13" r="2.88" fill="none" stroke="#0c0c0c" stroke-width="1.0"/><circle cx="604.82" cy="155.37" r="2.88" fill="none" stroke="#0c0c0c" stroke-width="1.0"/><circle cx="613.06" cy="155.37" r="2.88" fill="none" stroke="#0c0c0c" stroke-width="1.0"/><circle cx="608.94" cy="163.61" r="2.88" fill="none" stroke="#0c0c0c" stroke-width="1.0"/><circle cx="604.82" cy="171.85" r="2.88" fill="none" stroke="#0c0c0c" stroke-width="1.0"/><circle cx="613.06" cy="171.85" r="2.88" fill="none" stroke="#0c0c0c" stroke-width="1.0"/><circle cx="608.94" cy="180.09" r="2.88" fill="none" stroke="#0c0c0c" stroke-width="1.0"/><circle cx="604.82" cy="188.33" r="2.88" fill="none" stroke="#0c0c0c" stroke-width="1.0"/><circle cx="613.06" cy="188.33" r="2.88" fill="none" stroke="#0c0c0c" stroke-width="1.0"/><circle cx="608.94" cy="196.57" r="2.88" fill="none" stroke="#0c0c0c" stroke-width="1.0"/><circle cx="604.82" cy="204.81" r="2.88" fill="none" stroke="#0c0c0c" stroke-width="1.0"/><circle cx="613.06" cy="204.81" r="2.88" fill="none" stroke="#0c0c0c" stroke-width="1.0"/><circle cx="608.94" cy="213.05" r="2.88" fill="none" stroke="#0c0c0c" stroke-width="1.0"/><circle cx="604.82" cy="221.29" r="2.88" fill="none" stroke="#0c0c0c" stroke-width="1.0"/><circle cx="613.06" cy="221.29" r="2.88" fill="none" stroke="#0c0c0c" stroke-width="1.0"/><circle cx="608.94" cy="229.53" r="2.88" fill="none" stroke="#0c0c0c" stroke-width="1.0"/><circle cx="604.82" cy="237.77" r="2.88" fill="none" stroke="#0c0c0c" stroke-width="1.0"/><circle cx="613.06" cy="237.77" r="2.88" fill="none" stroke="#0c0c0c" stroke-width="1.0"/><circle cx="608.94" cy="246.01" r="2.88" fill="none" stroke="#0c0c0c" stroke-width="1.0"/><circle cx="604.82" cy="254.25" r="2.88" fill="none" stroke="#0c0c0c" stroke-width="1.0"/><circle cx="613.06" cy="254.25" r="2.88" fill="none" stroke="#0c0c0c" stroke-width="1.0"/><circle cx="654.26" cy="138.89" r="2.88" fill="none" stroke="#0c0c0c" stroke-width="1.0"/><circle cx="662.50" cy="138.89" r="2.88" fill="none" stroke="#0c0c0c" stroke-width="1.0"/><circle cx="658.38" cy="147.13" r="2.88" fill="none" stroke="#0c0c0c" stroke-width="1.0"/><circle cx="654.26" cy="155.37" r="2.88" fill="none" stroke="#0c0c0c" stroke-width="1.0"/><circle cx="662.50" cy="155.37" r="2.88" fill="none" stroke="#0c0c0c" stroke-width="1.0"/><circle cx="658.38" cy="163.61" r="2.88" fill="none" stroke="#0c0c0c" stroke-width="1.0"/><circle cx="654.26" cy="171.85" r="2.88" fill="none" stroke="#0c0c0c" stroke-width="1.0"/><circle cx="662.50" cy="171.85" r="2.88" fill="none" stroke="#0c0c0c" stroke-width="1.0"/><circle cx="658.38" cy="180.09" r="2.88" fill="none" stroke="#0c0c0c" stroke-width="1.0"/><circle cx="654.26" cy="188.33" r="2.88" fill="none" stroke="#0c0c0c" stroke-width="1.0"/><circle cx="662.50" cy="188.33" r="2.88" fill="none" stroke="#0c0c0c" stroke-width="1.0"/><circle cx="658.38" cy="196.57" r="2.88" fill="none" stroke="#0c0c0c" stroke-width="1.0"/><circle cx="654.26" cy="204.81" r="2.88" fill="none" stroke="#0c0c0c" stroke-width="1.0"/><circle cx="662.50" cy="204.81" r="2.88" fill="none" stroke="#0c0c0c" stroke-width="1.0"/><circle cx="658.38" cy="213.05" r="2.88" fill="none" stroke="#0c0c0c" stroke-width="1.0"/><circle cx="654.26" cy="221.29" r="2.88" fill="none" stroke="#0c0c0c" stroke-width="1.0"/><circle cx="662.50" cy="221.29" r="2.88" fill="none" stroke="#0c0c0c" stroke-width="1.0"/><circle cx="658.38" cy="229.53" r="2.88" fill="none" stroke="#0c0c0c" stroke-width="1.0"/><circle cx="654.26" cy="237.77" r="2.88" fill="none" stroke="#0c0c0c" stroke-width="1.0"/><circle cx="662.50" cy="237.77" r="2.88" fill="none" stroke="#0c0c0c" stroke-width="1.0"/><circle cx="658.38" cy="246.01" r="2.88" fill="none" stroke="#0c0c0c" stroke-width="1.0"/><circle cx="654.26" cy="254.25" r="2.88" fill="none" stroke="#0c0c0c" stroke-width="1.0"/><circle cx="662.50" cy="254.25" r="2.88" fill="none" stroke="#0c0c0c" stroke-width="1.0"/></g>
<clipPath id="c15"><rect x="459.70" y="223.89" width="5.10" height="32.41"/><rect x="510.10" y="223.89" width="5.10" height="32.41"/><rect x="560.50" y="240.75" width="5.10" height="15.55"/><rect x="610.90" y="174.45" width="5.10" height="81.85"/><rect x="661.30" y="233.38" width="5.10" height="22.92"/></clipPath>
<g clip-path="url(#c15)"><line x1="458.70" y1="225.41" x2="465.80" y2="225.41" stroke="#0c0c0c" stroke-width="1.0"/><line x1="458.70" y1="233.65" x2="465.80" y2="233.65" stroke="#0c0c0c" stroke-width="1.0"/><line x1="458.70" y1="241.89" x2="465.80" y2="241.89" stroke="#0c0c0c" stroke-width="1.0"/><line x1="458.70" y1="250.13" x2="465.80" y2="250.13" stroke="#0c0c0c" stroke-width="1.0"/><line x1="460.62" y1="222.89" x2="460.62" y2="257.30" stroke="#0c0c0c" stroke-width="1.0"/><line x1="509.10" y1="225.41" x2="516.20" y2="225.41" stroke="#0c0c0c" stroke-width="1.0"/><line x1="509.10" y1="233.65" x2="516.20" y2="233.65" stroke="#0c0c0c" stroke-width="1.0"/><line x1="509.10" y1="241.89" x2="516.20" y2="241.89" stroke="#0c0c0c" stroke-width="1.0"/><line x1="509.10" y1="250.13" x2="516.20" y2="250.13" stroke="#0c0c0c" stroke-width="1.0"/><line x1="510.06" y1="222.89" x2="510.06" y2="257.30" stroke="#0c0c0c" stroke-width="1.0"/><line x1="559.50" y1="241.89" x2="566.60" y2="241.89" stroke="#0c0c0c" stroke-width="1.0"/><line x1="559.50" y1="250.13" x2="566.60" y2="250.13" stroke="#0c0c0c" stroke-width="1.0"/><line x1="559.50" y1="239.75" x2="559.50" y2="257.30" stroke="#0c0c0c" stroke-width="1.0"/><line x1="609.90" y1="175.97" x2="617.00" y2="175.97" stroke="#0c0c0c" stroke-width="1.0"/><line x1="609.90" y1="184.21" x2="617.00" y2="184.21" stroke="#0c0c0c" stroke-width="1.0"/><line x1="609.90" y1="192.45" x2="617.00" y2="192.45" stroke="#0c0c0c" stroke-width="1.0"/><line x1="609.90" y1="200.69" x2="617.00" y2="200.69" stroke="#0c0c0c" stroke-width="1.0"/><line x1="609.90" y1="208.93" x2="617.00" y2="208.93" stroke="#0c0c0c" stroke-width="1.0"/><line x1="609.90" y1="217.17" x2="617.00" y2="217.17" stroke="#0c0c0c" stroke-width="1.0"/><line x1="609.90" y1="225.41" x2="617.00" y2="225.41" stroke="#0c0c0c" stroke-width="1.0"/><line x1="609.90" y1="233.65" x2="617.00" y2="233.65" stroke="#0c0c0c" stroke-width="1.0"/><line x1="609.90" y1="241.89" x2="617.00" y2="241.89" stroke="#0c0c0c" stroke-width="1.0"/><line x1="609.90" y1="250.13" x2="617.00" y2="250.13" stroke="#0c0c0c" stroke-width="1.0"/><line x1="660.30" y1="233.65" x2="667.40" y2="233.65" stroke="#0c0c0c" stroke-width="1.0"/><line x1="660.30" y1="241.89" x2="667.40" y2="241.89" stroke="#0c0c0c" stroke-width="1.0"/><line x1="660.30" y1="250.13" x2="667.40" y2="250.13" stroke="#0c0c0c" stroke-width="1.0"/><line x1="666.62" y1="232.38" x2="666.62" y2="257.30" stroke="#0c0c0c" stroke-width="1.0"/></g>
<clipPath id="c16"><rect x="464.80" y="254.66" width="5.10" height="1.64"/><rect x="515.20" y="253.19" width="5.10" height="3.11"/><rect x="565.60" y="254.66" width="5.10" height="1.64"/><rect x="616.00" y="249.75" width="5.10" height="6.55"/></clipPath>
<g clip-path="url(#c16)"><line x1="466.80" y1="253.66" x2="466.80" y2="257.30" stroke="#17302a" stroke-width="1.0"/><line x1="516.24" y1="252.19" x2="516.24" y2="257.30" stroke="#17302a" stroke-width="1.0"/><line x1="520.36" y1="252.19" x2="520.36" y2="257.30" stroke="#17302a" stroke-width="1.0"/><line x1="565.68" y1="253.66" x2="565.68" y2="257.30" stroke="#17302a" stroke-width="1.0"/><line x1="569.80" y1="253.66" x2="569.80" y2="257.30" stroke="#17302a" stroke-width="1.0"/><line x1="615.12" y1="248.75" x2="615.12" y2="257.30" stroke="#17302a" stroke-width="1.0"/><line x1="619.24" y1="248.75" x2="619.24" y2="257.30" stroke="#17302a" stroke-width="1.0"/></g>
<rect x="416.50" y="67.30" width="267.50" height="189.00" fill="none" stroke="#1a1a1a" stroke-width="0.8"/>
<line x1="449.20" y1="256.3" x2="449.20" y2="258.70" stroke="#1a1a1a" stroke-width="0.7"/>
<text transform="translate(453.80,341.90) rotate(-90) scale(1.0278,1)" font-size="15.0">Not Verified</text>
<line x1="499.60" y1="256.3" x2="499.60" y2="258.70" stroke="#1a1a1a" stroke-width="0.7"/>
<text transform="translate(504.20,337.79) rotate(-90) scale(0.9959,1)" font-size="15.0">Suspended</text>
<line x1="550.00" y1="256.3" x2="550.00" y2="258.70" stroke="#1a1a1a" stroke-width="0.7"/>
<text transform="translate(554.60,331.88) rotate(-90) scale(0.9948,1)" font-size="15.0">Not Found</text>
<line x1="600.40" y1="256.3" x2="600.40" y2="258.70" stroke="#1a1a1a" stroke-width="0.7"/>
<text transform="translate(605.00,313.75) rotate(-90) scale(1.0303,1)" font-size="15.0">Verified</text>
<line x1="650.80" y1="256.3" x2="650.80" y2="258.70" stroke="#1a1a1a" stroke-width="0.7"/>
<text transform="translate(655.40,284.41) rotate(-90) scale(0.8883,1)" font-size="15.0">IRA</text>
<line x1="414.10" y1="256.30" x2="416.50" y2="256.30" stroke="#1a1a1a" stroke-width="0.7"/>
<text transform="translate(402.65,261.60) scale(1.0372,1)" font-size="15.0">0</text>
<line x1="414.10" y1="223.56" x2="416.50" y2="223.56" stroke="#1a1a1a" stroke-width="0.7"/>
<text transform="translate(402.65,228.86) scale(1.0372,1)" font-size="15.0">2</text>
<line x1="414.10" y1="190.82" x2="416.50" y2="190.82" stroke="#1a1a1a" stroke-width="0.7"/>
<text transform="translate(402.65,196.12) scale(1.0372,1)" font-size="15.0">4</text>
<line x1="414.10" y1="158.08" x2="416.50" y2="158.08" stroke="#1a1a1a" stroke-width="0.7"/>
<text transform="translate(402.65,163.38) scale(1.0372,1)" font-size="15.0">6</text>
<line x1="414.10" y1="125.34" x2="416.50" y2="125.34" stroke="#1a1a1a" stroke-width="0.7"/>
<text transform="translate(402.65,130.64) scale(1.0372,1)" font-size="15.0">8</text>
<line x1="414.10" y1="92.60" x2="416.50" y2="92.60" stroke="#1a1a1a" stroke-width="0.7"/>
<text transform="translate(393.99,97.90) scale(1.0372,1)" font-size="15.0">10</text>
<text class="b" transform="translate(389.2,234.05) rotate(-90) scale(1.0676,1)" font-size="14.0">%non official clients</text>
<g transform="translate(77.00,1.00)"><svg width="20.0" height="7.0" viewBox="0 0 20.0 7.0" overflow="hidden"><rect width="20.0" height="7.0" fill="#797979"/><circle cx="6.00" cy="0.70" r="0.9" fill="#0c0c0c"/><circle cx="14.30" cy="0.70" r="0.9" fill="#0c0c0c"/><circle cx="1.80" cy="2.70" r="0.9" fill="#0c0c0c"/><circle cx="10.20" cy="2.70" r="0.9" fill="#0c0c0c"/><circle cx="18.50" cy="2.70" r="0.9" fill="#0c0c0c"/><circle cx="6.00" cy="4.80" r="0.9" fill="#0c0c0c"/><circle cx="14.30" cy="4.80" r="0.9" fill="#0c0c0c"/><circle cx="1.80" cy="6.60" r="0.9" fill="#0c0c0c"/><circle cx="10.20" cy="6.60" r="0.9" fill="#0c0c0c"/><circle cx="18.50" cy="6.60" r="0.9" fill="#0c0c0c"/></svg></g>
<text transform="translate(104.40,8.15) scale(1.0042,1)" font-size="10">Fake</text>
<g transform="translate(77.00,15.00)"><svg width="20.0" height="7.9" viewBox="0 0 20.0 7.9" overflow="hidden"><rect width="20.0" height="7.9" fill="#a24321"/><line x1="-0.50" y1="0.30" x2="7.00" y2="7.80" stroke="#0c0c0c" stroke-width="0.9"/><line x1="7.20" y1="-0.20" x2="15.00" y2="7.60" stroke="#0c0c0c" stroke-width="0.9"/><line x1="15.20" y1="-0.20" x2="20.50" y2="5.10" stroke="#0c0c0c" stroke-width="0.9"/></svg></g>
<text transform="translate(104.40,22.65) scale(1.1353,1)" font-size="10">Extreme bias right</text>
<g transform="translate(77.00,30.00)"><svg width="20.0" height="7.1" viewBox="0 0 20.0 7.1" overflow="hidden"><rect width="20.0" height="7.1" fill="#a64623"/><line x1="1.40" y1="-1.00" x2="1.40" y2="8.00" stroke="#0c0c0c" stroke-width="0.9"/><line x1="4.12" y1="-1.00" x2="4.12" y2="8.00" stroke="#0c0c0c" stroke-width="0.9"/><line x1="6.84" y1="-1.00" x2="6.84" y2="8.00" stroke="#0c0c0c" stroke-width="0.9"/><line x1="9.56" y1="-1.00" x2="9.56" y2="8.00" stroke="#0c0c0c" stroke-width="0.9"/><line x1="12.28" y1="-1.00" x2="12.28" y2="8.00" stroke="#0c0c0c" stroke-width="0.9"/><line x1="15.00" y1="-1.00" x2="15.00" y2="8.00" stroke="#0c0c0c" stroke-width="0.9"/><line x1="17.72" y1="-1.00" x2="17.72" y2="8.00" stroke="#0c0c0c" stroke-width="0.9"/><line x1="20.44" y1="-1.00" x2="20.44" y2="8.00" stroke="#0c0c0c" stroke-width="0.9"/></svg></g>
<text transform="translate(104.40,37.20) scale(1.1167,1)" font-size="10">Right</text>
<g transform="translate(77.00,44.90)"><svg width="20.0" height="7.0" viewBox="0 0 20.0 7.0" overflow="hidden"><rect width="20.0" height="7.0" fill="#b97750"/><line x1="6.20" y1="1.70" x2="-2.00" y2="9.90" stroke="#0c0c0c" stroke-width="1.0"/><line x1="6.20" y1="1.70" x2="14.40" y2="9.90" stroke="#0c0c0c" stroke-width="1.0"/><line x1="14.30" y1="1.70" x2="6.10" y2="9.90" stroke="#0c0c0c" stroke-width="1.0"/><line x1="14.30" y1="1.70" x2="22.50" y2="9.90" stroke="#0c0c0c" stroke-width="1.0"/><line x1="6.20" y1="1.70" x2="1.80" y2="-2.70" stroke="#0c0c0c" stroke-width="1.0"/><line x1="6.20" y1="1.70" x2="10.60" y2="-2.70" stroke="#0c0c0c" stroke-width="1.0"/><line x1="14.30" y1="1.70" x2="9.90" y2="-2.70" stroke="#0c0c0c" stroke-width="1.0"/><line x1="14.30" y1="1.70" x2="18.70" y2="-2.70" stroke="#0c0c0c" stroke-width="1.0"/><line x1="-2.00" y1="1.70" x2="1.80" y2="6.00" stroke="#0c0c0c" stroke-width="1.0"/></svg></g>
<text transform="translate(104.40,51.70) scale(1.1256,1)" font-size="10">Right leaning</text>
<g transform="translate(216.10,1.00)"><svg width="20.25" height="7.0" viewBox="0 0 20.25 7.0" overflow="hidden"><rect width="20.25" height="7.0" fill="#c39971"/><line x1="4.80" y1="7.20" x2="11.80" y2="0.20" stroke="#0c0c0c" stroke-width="1.0"/><line x1="13.00" y1="7.20" x2="20.20" y2="0.00" stroke="#0c0c0c" stroke-width="1.0"/><line x1="-0.50" y1="4.20" x2="3.80" y2="-0.10" stroke="#0c0c0c" stroke-width="1.0"/></svg></g>
<text transform="translate(243.80,8.15) scale(1.1102,1)" font-size="10">Center</text>
<g transform="translate(216.10,15.00)"><svg width="20.25" height="7.9" viewBox="0 0 20.25 7.9" overflow="hidden"><rect width="20.25" height="7.9" fill="#d1ca9f"/><circle cx="6.90" cy="3.00" r="2.6" fill="none" stroke="#0c0c0c" stroke-width="1.0"/><circle cx="15.10" cy="-0.90" r="2.6" fill="none" stroke="#0c0c0c" stroke-width="1.0"/><circle cx="15.10" cy="7.50" r="2.6" fill="none" stroke="#0c0c0c" stroke-width="1.0"/><circle cx="-1.30" cy="-0.90" r="2.6" fill="none" stroke="#0c0c0c" stroke-width="1.0"/><circle cx="-1.30" cy="7.50" r="2.6" fill="none" stroke="#0c0c0c" stroke-width="1.0"/></svg></g>
<text transform="translate(243.80,22.65) scale(1.1268,1)" font-size="10">Left leaning</text>
<g transform="translate(216.10,30.00)"><svg width="20.25" height="7.1" viewBox="0 0 20.25 7.1" overflow="hidden"><rect width="20.25" height="7.1" fill="#91a787"/><line x1="2.50" y1="-1.00" x2="2.50" y2="8.00" stroke="#0c0c0c" stroke-width="1.0"/><line x1="11.30" y1="-1.00" x2="11.30" y2="8.00" stroke="#0c0c0c" stroke-width="1.0"/><line x1="19.50" y1="-1.00" x2="19.50" y2="8.00" stroke="#0c0c0c" stroke-width="1.0"/><line x1="-1.00" y1="4.50" x2="21.00" y2="4.50" stroke="#0c0c0c" stroke-width="0.9"/></svg></g>
<text transform="translate(243.80,37.20) scale(1.1166,1)" font-size="10">Left</text>
<g transform="translate(216.10,44.90)"><svg width="20.25" height="7.0" viewBox="0 0 20.25 7.0" overflow="hidden"><rect width="20.25" height="7.0" fill="#4f8472"/><rect x="0" y="3.1" width="20" height="1.8" fill="#3f6455"/></svg></g>
<text transform="translate(243.80,51.70) scale(1.1162,1)" font-size="10">Extreme bias Left</text>
<g transform="translate(423.00,1.00)"><svg width="20.0" height="7.0" viewBox="0 0 20.0 7.0" overflow="hidden"><rect width="20.0" height="7.0" fill="#797979"/><circle cx="6.00" cy="0.70" r="0.9" fill="#0c0c0c"/><circle cx="14.30" cy="0.70" r="0.9" fill="#0c0c0c"/><circle cx="1.80" cy="2.70" r="0.9" fill="#0c0c0c"/><circle cx="10.20" cy="2.70" r="0.9" fill="#0c0c0c"/><circle cx="18.50" cy="2.70" r="0.9" fill="#0c0c0c"/><circle cx="6.00" cy="4.80" r="0.9" fill="#0c0c0c"/><circle cx="14.30" cy="4.80" r="0.9" fill="#0c0c0c"/><circle cx="1.80" cy="6.60" r="0.9" fill="#0c0c0c"/><circle cx="10.20" cy="6.60" r="0.9" fill="#0c0c0c"/><circle cx="18.50" cy="6.60" r="0.9" fill="#0c0c0c"/></svg></g>
<text transform="translate(450.40,8.15) scale(1.0042,1)" font-size="10">Fake</text>
<g transform="translate(423.00,15.00)"><svg width="20.0" height="7.9" viewBox="0 0 20.0 7.9" overflow="hidden"><rect width="20.0" height="7.9" fill="#a24321"/><line x1="-0.50" y1="0.30" x2="7.00" y2="7.80" stroke="#0c0c0c" stroke-width="0.9"/><line x1="7.20" y1="-0.20" x2="15.00" y2="7.60" stroke="#0c0c0c" stroke-width="0.9"/><line x1="15.20" y1="-0.20" x2="20.50" y2="5.10" stroke="#0c0c0c" stroke-width="0.9"/></svg></g>
<text transform="translate(450.40,22.65) scale(1.1353,1)" font-size="10">Extreme bias right</text>
<g transform="translate(423.00,30.00)"><svg width="20.0" height="7.1" viewBox="0 0 20.0 7.1" overflow="hidden"><rect width="20.0" height="7.1" fill="#a64623"/><line x1="1.40" y1="-1.00" x2="1.40" y2="8.00" stroke="#0c0c0c" stroke-width="0.9"/><line x1="4.12" y1="-1.00" x2="4.12" y2="8.00" stroke="#0c0c0c" stroke-width="0.9"/><line x1="6.84" y1="-1.00" x2="6.84" y2="8.00" stroke="#0c0c0c" stroke-width="0.9"/><line x1="9.56" y1="-1.00" x2="9.56" y2="8.00" stroke="#0c0c0c" stroke-width="0.9"/><line x1="12.28" y1="-1.00" x2="12.28" y2="8.00" stroke="#0c0c0c" stroke-width="0.9"/><line x1="15.00" y1="-1.00" x2="15.00" y2="8.00" stroke="#0c0c0c" stroke-width="0.9"/><line x1="17.72" y1="-1.00" x2="17.72" y2="8.00" stroke="#0c0c0c" stroke-width="0.9"/><line x1="20.44" y1="-1.00" x2="20.44" y2="8.00" stroke="#0c0c0c" stroke-width="0.9"/></svg></g>
<text transform="translate(450.40,37.20) scale(1.1167,1)" font-size="10">Right</text>
<g transform="translate(423.00,44.90)"><svg width="20.0" height="7.0" viewBox="0 0 20.0 7.0" overflow="hidden"><rect width="20.0" height="7.0" fill="#b97750"/><line x1="6.20" y1="1.70" x2="-2.00" y2="9.90" stroke="#0c0c0c" stroke-width="1.0"/><line x1="6.20" y1="1.70" x2="14.40" y2="9.90" stroke="#0c0c0c" stroke-width="1.0"/><line x1="14.30" y1="1.70" x2="6.10" y2="9.90" stroke="#0c0c0c" stroke-width="1.0"/><line x1="14.30" y1="1.70" x2="22.50" y2="9.90" stroke="#0c0c0c" stroke-width="1.0"/><line x1="6.20" y1="1.70" x2="1.80" y2="-2.70" stroke="#0c0c0c" stroke-width="1.0"/><line x1="6.20" y1="1.70" x2="10.60" y2="-2.70" stroke="#0c0c0c" stroke-width="1.0"/><line x1="14.30" y1="1.70" x2="9.90" y2="-2.70" stroke="#0c0c0c" stroke-width="1.0"/><line x1="14.30" y1="1.70" x2="18.70" y2="-2.70" stroke="#0c0c0c" stroke-width="1.0"/><line x1="-2.00" y1="1.70" x2="1.80" y2="6.00" stroke="#0c0c0c" stroke-width="1.0"/></svg></g>
<text transform="translate(450.40,51.70) scale(1.1256,1)" font-size="10">Right leaning</text>
<g transform="translate(562.10,1.00)"><svg width="20.25" height="7.0" viewBox="0 0 20.25 7.0" overflow="hidden"><rect width="20.25" height="7.0" fill="#c39971"/><line x1="4.80" y1="7.20" x2="11.80" y2="0.20" stroke="#0c0c0c" stroke-width="1.0"/><line x1="13.00" y1="7.20" x2="20.20" y2="0.00" stroke="#0c0c0c" stroke-width="1.0"/><line x1="-0.50" y1="4.20" x2="3.80" y2="-0.10" stroke="#0c0c0c" stroke-width="1.0"/></svg></g>
<text transform="translate(589.80,8.15) scale(1.1102,1)" font-size="10">Center</text>
<g transform="translate(562.10,15.00)"><svg width="20.25" height="7.9" viewBox="0 0 20.25 7.9" overflow="hidden"><rect width="20.25" height="7.9" fill="#d1ca9f"/><circle cx="6.90" cy="3.00" r="2.6" fill="none" stroke="#0c0c0c" stroke-width="1.0"/><circle cx="15.10" cy="-0.90" r="2.6" fill="none" stroke="#0c0c0c" stroke-width="1.0"/><circle cx="15.10" cy="7.50" r="2.6" fill="none" stroke="#0c0c0c" stroke-width="1.0"/><circle cx="-1.30" cy="-0.90" r="2.6" fill="none" stroke="#0c0c0c" stroke-width="1.0"/><circle cx="-1.30" cy="7.50" r="2.6" fill="none" stroke="#0c0c0c" stroke-width="1.0"/></svg></g>
<text transform="translate(589.80,22.65) scale(1.1268,1)" font-size="10">Left leaning</text>
<g transform="translate(562.10,30.00)"><svg width="20.25" height="7.1" viewBox="0 0 20.25 7.1" overflow="hidden"><rect width="20.25" height="7.1" fill="#91a787"/><line x1="2.50" y1="-1.00" x2="2.50" y2="8.00" stroke="#0c0c0c" stroke-width="1.0"/><line x1="11.30" y1="-1.00" x2="11.30" y2="8.00" stroke="#0c0c0c" stroke-width="1.0"/><line x1="19.50" y1="-1.00" x2="19.50" y2="8.00" stroke="#0c0c0c" stroke-width="1.0"/><line x1="-1.00" y1="4.50" x2="21.00" y2="4.50" stroke="#0c0c0c" stroke-width="0.9"/></svg></g>
<text transform="translate(589.80,37.20) scale(1.1166,1)" font-size="10">Left</text>
<g transform="translate(562.10,44.90)"><svg width="20.25" height="7.0" viewBox="0 0 20.25 7.0" overflow="hidden"><rect width="20.25" height="7.0" fill="#4f8472"/><rect x="0" y="3.1" width="20" height="1.8" fill="#3f6455"/></svg></g>
<text transform="translate(589.80,51.70) scale(1.1162,1)" font-size="10">Extreme bias Left</text>
<text transform="translate(0.00,348.2) scale(0.85,1)" font-size="26" style="font-family:'Liberation Serif',serif;font-weight:normal;fill:#000">(</text>
<text transform="translate(19.30,348.2) scale(0.92,1)" font-size="26" style="font-family:'Liberation Serif',serif;font-weight:normal;fill:#000">)</text>
<text class="s" transform="translate(6.9,346.2) scale(1.1,1)" font-size="22.6">a</text>
<text transform="translate(343.50,348.2) scale(0.85,1)" font-size="26" style="font-family:'Liberation Serif',serif;font-weight:normal;fill:#000">(</text>
<text transform="translate(366.80,348.2) scale(0.9,1)" font-size="26" style="font-family:'Liberation Serif',serif;font-weight:normal;fill:#000">)</text>
<text class="s" transform="translate(352.6,346.5) scale(1.09,1)" font-size="22.0">b</text>
</svg></body></html>
